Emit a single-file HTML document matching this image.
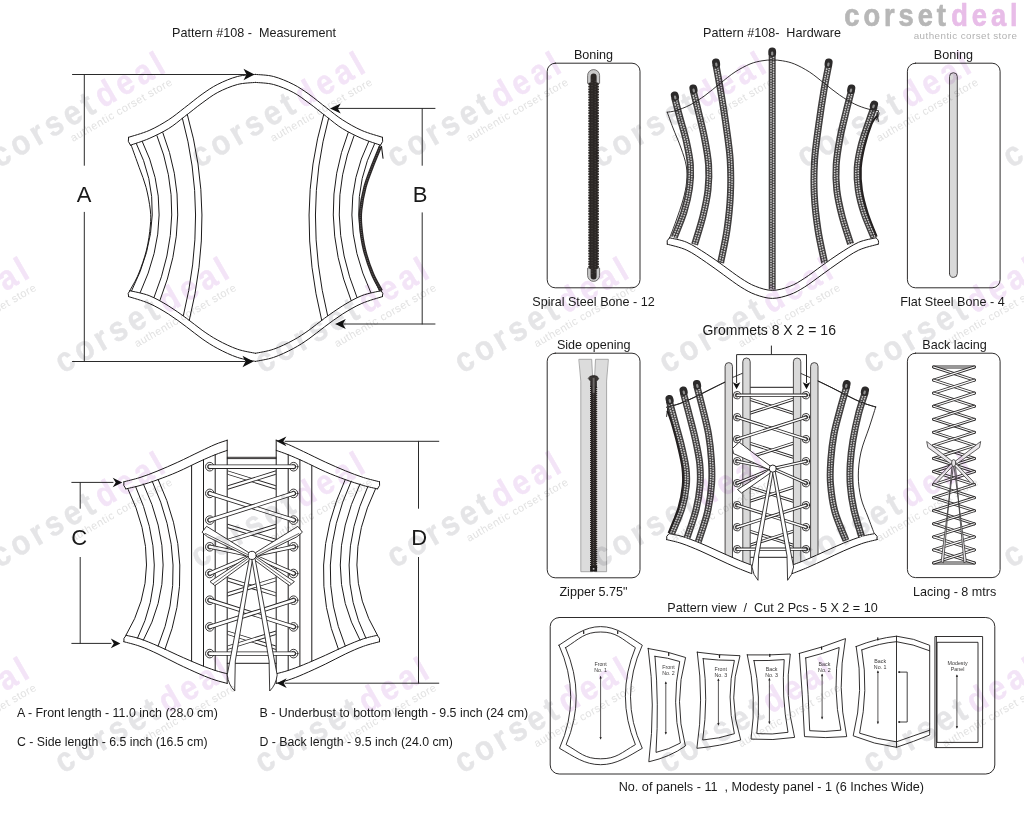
<!DOCTYPE html>
<html><head><meta charset="utf-8"><title>Pattern #108</title>
<style>
html,body{margin:0;padding:0;background:#fff;}
body{width:1024px;height:815px;overflow:hidden;position:relative;font-family:"Liberation Sans",sans-serif;}
svg{position:absolute;left:0;top:0;}
svg text{font-family:"Liberation Sans",sans-serif;}
#wm{mix-blend-mode:multiply;}
</style></head><body>
<svg id="draw" width="1024" height="815" viewBox="0 0 1024 815" stroke-linecap="round" stroke-linejoin="round">
<g id="meas">
<path d="M128.5,137.3C131.9,136.2 142.4,133.4 149.1,130.5C155.8,127.6 162.8,123.5 168.7,119.7C174.6,115.9 178.8,112.2 184.4,107.9C190,103.7 196.5,98.1 202.1,94.2C207.7,90.3 211.9,87.2 217.8,84.3C223.7,81.3 231.1,78.2 237.4,76.5C243.7,74.8 252.5,74.8 255.5,74.4M130.4,145.2C133.5,144.1 142.7,141.3 149.1,138.5C155.5,135.7 162.8,132.1 168.7,128.5C174.6,124.9 178.8,121 184.4,116.7C190,112.5 196.5,107 202.1,103C207.7,99 211.9,95.5 217.8,92.4C223.7,89.3 231.1,86.2 237.4,84.5C243.7,82.8 252.5,82.8 255.5,82.4M128.5,296.6C131.9,297.7 142.4,300.5 149.1,303.4C155.8,306.3 162.5,310.3 168.7,314.2C174.9,318.1 180.8,322.7 186.4,326.8C192,330.9 196.9,335.2 202.1,338.8C207.3,342.4 211.9,345.5 217.8,348.6C223.7,351.7 231.1,355.3 237.4,357.4C243.7,359.5 252.5,360.7 255.5,361.4M129.8,290.7C133,291.5 142.6,293.1 149.1,295.6C155.6,298.2 162.5,302.2 168.7,306C174.9,309.8 180.8,314.2 186.4,318.2C192,322.2 196.9,326.5 202.1,330.2C207.3,333.9 211.9,337 217.8,340.2C223.7,343.4 231.1,347 237.4,349.2C243.7,351.4 252.5,352.6 255.5,353.3M128.5,137.3Q127,141.5 130.4,145.2M129.8,290.7Q127,293 128.5,296.6M131.2,145.2C132.5,149 136.8,160.8 139.3,167.8C141.8,174.8 144.3,180.4 146.1,187.4C147.9,194.4 149.6,203.6 150.3,210C151,216.4 150.9,219.3 150.3,226C149.7,232.7 148.5,242 146.5,250C144.5,258 141.3,267.2 138.5,274C135.7,280.8 131.2,287.9 129.8,290.7M136.3,143.5Q170.7,212.8 131.6,290.8M142.2,141.3Q177.2,213 140.2,292.6M157,135.8Q188.1,213.3 154,297.5M162.8,132.6Q194.2,213.4 159.9,300.5M182.4,118.3Q208.3,213.1 183.4,315.5M187.3,114.5Q215.7,212.6 189.3,320.3" fill="none" stroke="#1c1a1a" stroke-width="1" />
<path d="M128.5,137.3C131.9,136.2 142.4,133.4 149.1,130.5C155.8,127.6 162.8,123.5 168.7,119.7C174.6,115.9 178.8,112.2 184.4,107.9C190,103.7 196.5,98.1 202.1,94.2C207.7,90.3 211.9,87.2 217.8,84.3C223.7,81.3 231.1,78.2 237.4,76.5C243.7,74.8 252.5,74.8 255.5,74.4M130.4,145.2C133.5,144.1 142.7,141.3 149.1,138.5C155.5,135.7 162.8,132.1 168.7,128.5C174.6,124.9 178.8,121 184.4,116.7C190,112.5 196.5,107 202.1,103C207.7,99 211.9,95.5 217.8,92.4C223.7,89.3 231.1,86.2 237.4,84.5C243.7,82.8 252.5,82.8 255.5,82.4M128.5,296.6C131.9,297.7 142.4,300.5 149.1,303.4C155.8,306.3 162.5,310.3 168.7,314.2C174.9,318.1 180.8,322.7 186.4,326.8C192,330.9 196.9,335.2 202.1,338.8C207.3,342.4 211.9,345.5 217.8,348.6C223.7,351.7 231.1,355.3 237.4,357.4C243.7,359.5 252.5,360.7 255.5,361.4M129.8,290.7C133,291.5 142.6,293.1 149.1,295.6C155.6,298.2 162.5,302.2 168.7,306C174.9,309.8 180.8,314.2 186.4,318.2C192,322.2 196.9,326.5 202.1,330.2C207.3,333.9 211.9,337 217.8,340.2C223.7,343.4 231.1,347 237.4,349.2C243.7,351.4 252.5,352.6 255.5,353.3M128.5,137.3Q127,141.5 130.4,145.2M129.8,290.7Q127,293 128.5,296.6M131.2,145.2C132.5,149 136.8,160.8 139.3,167.8C141.8,174.8 144.3,180.4 146.1,187.4C147.9,194.4 149.6,203.6 150.3,210C151,216.4 150.9,219.3 150.3,226C149.7,232.7 148.5,242 146.5,250C144.5,258 141.3,267.2 138.5,274C135.7,280.8 131.2,287.9 129.8,290.7M136.3,143.5Q170.7,212.8 131.6,290.8M142.2,141.3Q177.2,213 140.2,292.6M157,135.8Q188.1,213.3 154,297.5M162.8,132.6Q194.2,213.4 159.9,300.5M182.4,118.3Q208.3,213.1 183.4,315.5M187.3,114.5Q215.7,212.6 189.3,320.3" fill="none" stroke="#1c1a1a" stroke-width="1" transform="translate(511,0) scale(-1,1)"/>
<path d="M380.4,146.5C378.9,150.1 374.3,161 371.7,167.8C369.1,174.6 366.7,180.4 364.9,187.4C363.1,194.4 361.4,203.6 360.7,210C360,216.4 360.1,219.3 360.7,226C361.3,232.7 362.5,242 364.5,250C366.5,258 369.7,267.2 372.5,274C375.3,280.8 379.8,287.9 381.2,290.7" fill="none" stroke="#2a2626" stroke-width="3.4" stroke-linecap="butt"/>
<path d="M380.4,146.5C378.9,150.1 374.3,161 371.7,167.8C369.1,174.6 366.7,180.4 364.9,187.4C363.1,194.4 361.4,203.6 360.7,210C360,216.4 360.1,219.3 360.7,226C361.3,232.7 362.5,242 364.5,250C366.5,258 369.7,267.2 372.5,274C375.3,280.8 379.8,287.9 381.2,290.7" fill="none" stroke="#777" stroke-width="1.0" stroke-dasharray="0.6 1.3" stroke-linecap="butt"/>
<path d="M381.5,146.2 L383,158.2" fill="none" stroke="#1c1a1a" stroke-width="1.1" />
<path d="M72.5,74.5L246,74.5M72.5,361.5L245,361.5M84.3,74.5L84.3,165.3M84.3,212.3L84.3,361.5" fill="none" stroke="#2a2a2a" stroke-width="1" />
<path d="M254.5,74.5L243.5,68.7L246.5,74.5L243.5,80.3Z" fill="#111" stroke="none"/>
<path d="M253.5,361.5L242.5,355.7L245.5,361.5L242.5,367.3Z" fill="#111" stroke="none"/>
<path d="M338,108.4L435,108.4M343,324L435,324M422.2,108.4L422.2,165.3M422.2,212.8L422.2,324" fill="none" stroke="#2a2a2a" stroke-width="1" />
<path d="M330,108.4L340.8,103.4L337.8,108.4L340.8,113.4Z" fill="#111" stroke="none"/>
<path d="M335,324L345.8,319L342.8,324L345.8,329Z" fill="#111" stroke="none"/>
</g>
<g id="back">
<path d="M227.3,457.3H276.1M227.3,458.6H276.1" fill="none" stroke="#1c1a1a" stroke-width="0.9" />
<path d="M227.3,663.3H276.1" fill="none" stroke="#1c1a1a" stroke-width="1" />
<clipPath id="gapclip"><rect x="227.6" y="440" width="48.2" height="240"/></clipPath>
<g clip-path="url(#gapclip)">
<path d="M215,468.7L288.4,491.4" fill="none" stroke="#262424" stroke-width="4.2" stroke-linecap="round"/>
<path d="M215,468.7L288.4,491.4" fill="none" stroke="#fff" stroke-width="2.5" stroke-linecap="round"/>
<path d="M288.4,468.7L215,491.4" fill="none" stroke="#262424" stroke-width="4.2" stroke-linecap="round"/>
<path d="M288.4,468.7L215,491.4" fill="none" stroke="#fff" stroke-width="2.5" stroke-linecap="round"/>
<path d="M215,522.1L288.4,544.8" fill="none" stroke="#262424" stroke-width="4.2" stroke-linecap="round"/>
<path d="M215,522.1L288.4,544.8" fill="none" stroke="#fff" stroke-width="2.5" stroke-linecap="round"/>
<path d="M288.4,522.1L215,544.8" fill="none" stroke="#262424" stroke-width="4.2" stroke-linecap="round"/>
<path d="M288.4,522.1L215,544.8" fill="none" stroke="#fff" stroke-width="2.5" stroke-linecap="round"/>
<path d="M215,575.5L288.4,598.2" fill="none" stroke="#262424" stroke-width="4.2" stroke-linecap="round"/>
<path d="M215,575.5L288.4,598.2" fill="none" stroke="#fff" stroke-width="2.5" stroke-linecap="round"/>
<path d="M288.4,575.5L215,598.2" fill="none" stroke="#262424" stroke-width="4.2" stroke-linecap="round"/>
<path d="M288.4,575.5L215,598.2" fill="none" stroke="#fff" stroke-width="2.5" stroke-linecap="round"/>
<path d="M215,628.9L288.4,651.6" fill="none" stroke="#262424" stroke-width="4.2" stroke-linecap="round"/>
<path d="M215,628.9L288.4,651.6" fill="none" stroke="#fff" stroke-width="2.5" stroke-linecap="round"/>
<path d="M288.4,628.9L215,651.6" fill="none" stroke="#262424" stroke-width="4.2" stroke-linecap="round"/>
<path d="M288.4,628.9L215,651.6" fill="none" stroke="#fff" stroke-width="2.5" stroke-linecap="round"/>
</g>
<path d="M123.8,481.8C126.5,481.1 134.3,479.3 140,477.5C145.7,475.7 151.7,473.4 158,470.8C164.3,468.2 170.8,465.4 177.8,462.2C184.8,459 193.8,454.4 200,451.5C206.2,448.6 210.5,446.4 215,444.5C219.5,442.6 225.2,440.9 227.2,440.2M125.8,488.9C128.2,488.3 134.6,487.1 140,485.5C145.4,483.9 151.7,481.9 158,479.6C164.3,477.3 170.8,474.9 177.8,471.8C184.8,468.8 193.8,464.1 200,461.3C206.2,458.5 210.5,456.6 215,454.8C219.5,453 225.2,451.1 227.2,450.4M123.8,641.7C126.5,642.5 134.3,644.2 140,646.3C145.7,648.3 151.7,651 158,654C164.3,657 170.8,660.6 177.8,664C184.8,667.4 193.8,671.5 200,674.2C206.2,676.9 210.5,678.5 215,680C219.5,681.5 225.2,682.8 227.2,683.4M126.1,635.3C128.4,635.9 134.7,637 140,638.8C145.3,640.6 151.7,643.3 158,646C164.3,648.7 170.8,652.1 177.8,655.2C184.8,658.3 193.8,662.3 200,664.8C206.2,667.3 210.5,668.9 215,670.4C219.5,671.9 225.2,673.2 227.2,673.8M123.8,481.8Q122.6,485.5 125.8,488.9M126.1,635.3Q122.8,638 123.8,641.7M227.2,440.2L227.2,683.4M191.6,465.5L191.6,660.8M203.5,459.7L203.5,666M215.2,454.7L215.2,670.5M127.7,488.4Q166.4,568.1 125.9,635.4M135.6,486.6Q172.2,567.6 137.5,638.2M143.4,484Q183,568 143.4,640.1M152.2,481.2Q191.1,566.4 158.1,646.1M158.1,479.4Q198.2,565.7 165,649.2" fill="none" stroke="#1c1a1a" stroke-width="1" />
<path d="M123.8,481.8C126.5,481.1 134.3,479.3 140,477.5C145.7,475.7 151.7,473.4 158,470.8C164.3,468.2 170.8,465.4 177.8,462.2C184.8,459 193.8,454.4 200,451.5C206.2,448.6 210.5,446.4 215,444.5C219.5,442.6 225.2,440.9 227.2,440.2M125.8,488.9C128.2,488.3 134.6,487.1 140,485.5C145.4,483.9 151.7,481.9 158,479.6C164.3,477.3 170.8,474.9 177.8,471.8C184.8,468.8 193.8,464.1 200,461.3C206.2,458.5 210.5,456.6 215,454.8C219.5,453 225.2,451.1 227.2,450.4M123.8,641.7C126.5,642.5 134.3,644.2 140,646.3C145.7,648.3 151.7,651 158,654C164.3,657 170.8,660.6 177.8,664C184.8,667.4 193.8,671.5 200,674.2C206.2,676.9 210.5,678.5 215,680C219.5,681.5 225.2,682.8 227.2,683.4M126.1,635.3C128.4,635.9 134.7,637 140,638.8C145.3,640.6 151.7,643.3 158,646C164.3,648.7 170.8,652.1 177.8,655.2C184.8,658.3 193.8,662.3 200,664.8C206.2,667.3 210.5,668.9 215,670.4C219.5,671.9 225.2,673.2 227.2,673.8M123.8,481.8Q122.6,485.5 125.8,488.9M126.1,635.3Q122.8,638 123.8,641.7M227.2,440.2L227.2,683.4M191.6,465.5L191.6,660.8M203.5,459.7L203.5,666M215.2,454.7L215.2,670.5M127.7,488.4Q166.4,568.1 125.9,635.4M135.6,486.6Q172.2,567.6 137.5,638.2M143.4,484Q183,568 143.4,640.1M152.2,481.2Q191.1,566.4 158.1,646.1M158.1,479.4Q198.2,565.7 165,649.2" fill="none" stroke="#1c1a1a" stroke-width="1" transform="translate(503.4,0) scale(-1,1)"/>
<circle cx="209.8" cy="466.7" r="4.3" fill="#fff" stroke="#262424" stroke-width="0.9"/>
<circle cx="209.8" cy="466.7" r="2.3" fill="#fff" stroke="#262424" stroke-width="0.8"/>
<circle cx="293.6" cy="466.7" r="4.3" fill="#fff" stroke="#262424" stroke-width="0.9"/>
<circle cx="293.6" cy="466.7" r="2.3" fill="#fff" stroke="#262424" stroke-width="0.8"/>
<circle cx="209.8" cy="493.4" r="4.3" fill="#fff" stroke="#262424" stroke-width="0.9"/>
<circle cx="209.8" cy="493.4" r="2.3" fill="#fff" stroke="#262424" stroke-width="0.8"/>
<circle cx="293.6" cy="493.4" r="4.3" fill="#fff" stroke="#262424" stroke-width="0.9"/>
<circle cx="293.6" cy="493.4" r="2.3" fill="#fff" stroke="#262424" stroke-width="0.8"/>
<circle cx="209.8" cy="520.1" r="4.3" fill="#fff" stroke="#262424" stroke-width="0.9"/>
<circle cx="209.8" cy="520.1" r="2.3" fill="#fff" stroke="#262424" stroke-width="0.8"/>
<circle cx="293.6" cy="520.1" r="4.3" fill="#fff" stroke="#262424" stroke-width="0.9"/>
<circle cx="293.6" cy="520.1" r="2.3" fill="#fff" stroke="#262424" stroke-width="0.8"/>
<circle cx="209.8" cy="546.8" r="4.3" fill="#fff" stroke="#262424" stroke-width="0.9"/>
<circle cx="209.8" cy="546.8" r="2.3" fill="#fff" stroke="#262424" stroke-width="0.8"/>
<circle cx="293.6" cy="546.8" r="4.3" fill="#fff" stroke="#262424" stroke-width="0.9"/>
<circle cx="293.6" cy="546.8" r="2.3" fill="#fff" stroke="#262424" stroke-width="0.8"/>
<circle cx="209.8" cy="573.5" r="4.3" fill="#fff" stroke="#262424" stroke-width="0.9"/>
<circle cx="209.8" cy="573.5" r="2.3" fill="#fff" stroke="#262424" stroke-width="0.8"/>
<circle cx="293.6" cy="573.5" r="4.3" fill="#fff" stroke="#262424" stroke-width="0.9"/>
<circle cx="293.6" cy="573.5" r="2.3" fill="#fff" stroke="#262424" stroke-width="0.8"/>
<circle cx="209.8" cy="600.2" r="4.3" fill="#fff" stroke="#262424" stroke-width="0.9"/>
<circle cx="209.8" cy="600.2" r="2.3" fill="#fff" stroke="#262424" stroke-width="0.8"/>
<circle cx="293.6" cy="600.2" r="4.3" fill="#fff" stroke="#262424" stroke-width="0.9"/>
<circle cx="293.6" cy="600.2" r="2.3" fill="#fff" stroke="#262424" stroke-width="0.8"/>
<circle cx="209.8" cy="626.9" r="4.3" fill="#fff" stroke="#262424" stroke-width="0.9"/>
<circle cx="209.8" cy="626.9" r="2.3" fill="#fff" stroke="#262424" stroke-width="0.8"/>
<circle cx="293.6" cy="626.9" r="4.3" fill="#fff" stroke="#262424" stroke-width="0.9"/>
<circle cx="293.6" cy="626.9" r="2.3" fill="#fff" stroke="#262424" stroke-width="0.8"/>
<circle cx="209.8" cy="653.6" r="4.3" fill="#fff" stroke="#262424" stroke-width="0.9"/>
<circle cx="209.8" cy="653.6" r="2.3" fill="#fff" stroke="#262424" stroke-width="0.8"/>
<circle cx="293.6" cy="653.6" r="4.3" fill="#fff" stroke="#262424" stroke-width="0.9"/>
<circle cx="293.6" cy="653.6" r="2.3" fill="#fff" stroke="#262424" stroke-width="0.8"/>
<path d="M209.8,466.7L293.6,466.7" fill="none" stroke="#262424" stroke-width="4.4" stroke-linecap="round"/>
<path d="M209.8,466.7L293.6,466.7" fill="none" stroke="#fff" stroke-width="2.7" stroke-linecap="round"/>
<path d="M209.8,653.6L293.6,653.6" fill="none" stroke="#262424" stroke-width="4.4" stroke-linecap="round"/>
<path d="M209.8,653.6L293.6,653.6" fill="none" stroke="#fff" stroke-width="2.7" stroke-linecap="round"/>
<path d="M209.8,493.4L293.6,520.1" fill="none" stroke="#262424" stroke-width="4.4" stroke-linecap="round"/>
<path d="M209.8,493.4L293.6,520.1" fill="none" stroke="#fff" stroke-width="2.7" stroke-linecap="round"/>
<path d="M293.6,493.4L209.8,520.1" fill="none" stroke="#262424" stroke-width="4.4" stroke-linecap="round"/>
<path d="M293.6,493.4L209.8,520.1" fill="none" stroke="#fff" stroke-width="2.7" stroke-linecap="round"/>
<path d="M209.8,600.2L293.6,626.9" fill="none" stroke="#262424" stroke-width="4.4" stroke-linecap="round"/>
<path d="M209.8,600.2L293.6,626.9" fill="none" stroke="#fff" stroke-width="2.7" stroke-linecap="round"/>
<path d="M293.6,600.2L209.8,626.9" fill="none" stroke="#262424" stroke-width="4.4" stroke-linecap="round"/>
<path d="M293.6,600.2L209.8,626.9" fill="none" stroke="#fff" stroke-width="2.7" stroke-linecap="round"/>
<path d="M209.8,546.8L252.2,555.4" fill="none" stroke="#262424" stroke-width="4.2" stroke-linecap="round"/>
<path d="M209.8,546.8L252.2,555.4" fill="none" stroke="#fff" stroke-width="2.5" stroke-linecap="round"/>
<path d="M209.8,573.5L252.2,555.4" fill="none" stroke="#262424" stroke-width="4.2" stroke-linecap="round"/>
<path d="M209.8,573.5L252.2,555.4" fill="none" stroke="#fff" stroke-width="2.5" stroke-linecap="round"/>
<path d="M293.6,546.8L252.2,555.4" fill="none" stroke="#262424" stroke-width="4.2" stroke-linecap="round"/>
<path d="M293.6,546.8L252.2,555.4" fill="none" stroke="#fff" stroke-width="2.5" stroke-linecap="round"/>
<path d="M293.6,573.5L252.2,555.4" fill="none" stroke="#262424" stroke-width="4.2" stroke-linecap="round"/>
<path d="M293.6,573.5L252.2,555.4" fill="none" stroke="#fff" stroke-width="2.5" stroke-linecap="round"/>
<path d="M249.2,552.9L206.6,526.3L202,532.2L207.5,536.8L248.2,556.9ZM248.2,556.4L210,581.6L214.8,585.6L220,582L250.7,559.4Z" fill="#fff" stroke="#262424" stroke-width="0.9" />
<path d="M249.2,552.9L206.6,526.3L202,532.2L207.5,536.8L248.2,556.9ZM248.2,556.4L210,581.6L214.8,585.6L220,582L250.7,559.4Z" fill="#fff" stroke="#262424" stroke-width="0.9" transform="translate(504.4,0) scale(-1,1)"/>
<path d="M247.2,554.4L205.5,533.5M248.2,558.4L213.5,583.5" fill="none" stroke="#262424" stroke-width="0.7" />
<path d="M247.2,554.4L205.5,533.5M248.2,558.4L213.5,583.5" fill="none" stroke="#262424" stroke-width="0.7" transform="translate(504.4,0) scale(-1,1)"/>
<path d="M249.4,558.4 L227.2,675 Q228.5,685 234.7,691 L235.3,661 L252.5,559.4 Z" fill="#fff" stroke="#262424" stroke-width="0.9" />
<path d="M249.4,558.4 L227.2,675 Q228.5,685 234.7,691 L235.3,661 L252.5,559.4 Z" fill="#fff" stroke="#262424" stroke-width="0.9" transform="translate(504.4,0) scale(-1,1)"/>
<circle cx="252.2" cy="555.4" r="4.1" fill="#fff" stroke="#262424" stroke-width="1"/>
<path d="M71.8,482.4L113,482.4M71.8,643.4L111,643.4M80.2,482.4L80.2,508.3M80.2,557.4L80.2,643.4" fill="none" stroke="#2a2a2a" stroke-width="1" />
<path d="M122.3,482.5L112.7,477.7L115.7,482.5L112.7,487.3Z" fill="#111" stroke="none"/>
<path d="M120.4,643.4L110.8,638.6L113.8,643.4L110.8,648.2Z" fill="#111" stroke="none"/>
<path d="M285,441.3L438.8,441.3M285,683.2L438.8,683.2M418.5,441.3L418.5,508.3M418.5,557.4L418.5,683.2" fill="none" stroke="#2a2a2a" stroke-width="1" />
<path d="M276.6,441.3L286.4,436.4L283.4,441.3L286.4,446.2Z" fill="#111" stroke="none"/>
<path d="M276.9,683.2L286.7,678.3L283.7,683.2L286.7,688.1Z" fill="#111" stroke="none"/>
</g>
<g id="hw">
<path d="M667.2,112.2C668.2,114.8 670.7,122 673,128C675.3,134 678.8,141.7 681,148C683.2,154.3 685.4,160.3 686.3,166C687.2,171.7 687.1,176.3 686.6,182C686.1,187.7 684.8,193.5 683,200C681.2,206.5 678.2,214.7 676,221C673.8,227.3 670.7,235.2 669.6,238" fill="none" stroke="#1c1a1a" stroke-width="0.9" />
<path d="M878.2,110.8C878.3,111.3 879.2,112.5 878.9,114C878.6,115.5 876.9,119 876.5,120" fill="none" stroke="#1c1a1a" stroke-width="0.9" />
<path d="M667.2,244.2C670.5,245.2 680.3,247.1 686.8,250.2C693.3,253.2 700.3,258.4 706.4,262.5C712.5,266.6 717.9,270.7 723.6,274.8C729.3,278.9 735.5,283.7 740.8,287C746.1,290.3 750.2,292.7 755.5,294.6C760.8,296.5 766.7,298.4 772.4,298.4C778.1,298.4 784.5,296.5 789.9,294.6C795.3,292.7 799.3,290.3 804.6,287C809.9,283.7 816.1,278.9 821.8,274.8C827.5,270.7 832.9,266.6 839,262.5C845.1,258.4 852.1,253.2 858.6,250.2C865.1,247.1 874.9,245.2 878.2,244.2" fill="none" stroke="#1c1a1a" stroke-width="1" />
<path d="M669.4,237.8C672.3,238.6 680.6,239.6 686.8,242.3C693,245 700.3,249.9 706.4,253.8C712.5,257.7 717.9,261.7 723.6,265.8C729.3,269.9 735.5,274.8 740.8,278.2C746.1,281.6 750.2,284.3 755.5,286.3C760.8,288.3 766.7,290.4 772.4,290.4C778.1,290.4 784.5,288.3 789.9,286.3C795.3,284.3 799.3,281.6 804.6,278.2C809.9,274.8 816.1,269.9 821.8,265.8C827.5,261.7 832.9,257.7 839,253.8C845.1,249.9 852.4,245 858.6,242.3C864.8,239.6 873.1,238.6 876,237.8" fill="none" stroke="#1c1a1a" stroke-width="1" />
<path d="M669.4,237.8Q665.8,240.5 667.2,244.2M876,237.8Q879.9,240.5 878.2,244.2" fill="none" stroke="#1c1a1a" stroke-width="1" />
<path d="M674.6,97.5C675.5,100.9 678,110.6 680,118C682,125.4 684.8,134.2 686.5,142C688.2,149.8 689.9,157.3 690.4,165C690.9,172.7 690.6,180.2 689.5,188C688.4,195.8 686.5,203.8 684,212C681.5,220.2 675.8,233.2 674.2,237.5" fill="none" stroke="#403e3e" stroke-width="7.0" stroke-linecap="butt"/>
<path d="M673.4,97.8C674.3,101.2 676.8,110.9 678.8,118.3C680.8,125.7 683.6,134.5 685.3,142.3C687,150.1 688.7,157.5 689.2,165.1C689.6,172.7 689.3,180.1 688.3,187.8C687.2,195.6 685.3,203.4 682.8,211.6C680.3,219.8 674.7,232.8 673,237.1" fill="none" stroke="#c9c9c9" stroke-width="1.7" stroke-linecap="round" stroke-dasharray="0.1 2.4"/>
<path d="M675.8,97.2C676.7,100.6 679.2,110.3 681.2,117.7C683.2,125.1 686,133.9 687.7,141.7C689.5,149.6 691.1,157.2 691.6,164.9C692.2,172.7 691.8,180.3 690.7,188.2C689.7,196.1 687.8,204.1 685.2,212.4C682.6,220.7 677,233.7 675.4,237.9" fill="none" stroke="#c9c9c9" stroke-width="1.7" stroke-linecap="round" stroke-dasharray="0.1 2.4" stroke-dashoffset="1.25"/>
<path d="M693.2,90.5C694.1,94.1 696.6,104.1 698.5,112C700.4,119.9 702.8,129.2 704.5,138C706.2,146.8 708,156.3 708.6,165C709.2,173.7 708.9,181.5 708,190C707.1,198.5 705.2,206.9 703,216C700.8,225.1 696,239.8 694.6,244.5" fill="none" stroke="#403e3e" stroke-width="7.0" stroke-linecap="butt"/>
<path d="M692,90.8C692.9,94.4 695.4,104.4 697.3,112.3C699.2,120.2 701.6,129.4 703.3,138.2C705,147 706.8,156.5 707.4,165.1C707.9,173.7 707.7,181.4 706.8,189.9C705.8,198.3 704,206.7 701.8,215.7C699.6,224.7 694.8,239.4 693.4,244.1" fill="none" stroke="#c9c9c9" stroke-width="1.7" stroke-linecap="round" stroke-dasharray="0.1 2.4"/>
<path d="M694.4,90.2C695.3,93.8 697.8,103.8 699.7,111.7C701.6,119.6 704,128.9 705.7,137.8C707.4,146.6 709.3,156.2 709.8,164.9C710.4,173.6 710.2,181.6 709.2,190.1C708.3,198.7 706.5,207.2 704.2,216.3C702,225.4 697.2,240.1 695.8,244.9" fill="none" stroke="#c9c9c9" stroke-width="1.7" stroke-linecap="round" stroke-dasharray="0.1 2.4" stroke-dashoffset="1.25"/>
<path d="M715.9,64.5C716.7,68.8 718.8,79.9 720.5,90C722.2,100.1 724.4,113.3 726,125C727.6,136.7 729.5,148.3 730.2,160C730.9,171.7 730.9,183.3 730.4,195C729.9,206.7 728.6,218.7 727,230C725.4,241.3 721.7,257.3 720.6,262.8" fill="none" stroke="#403e3e" stroke-width="7.0" stroke-linecap="butt"/>
<path d="M714.7,64.7C715.4,69 717.6,80.1 719.3,90.2C720.9,100.3 723.1,113.5 724.8,125.2C726.4,136.8 728.2,148.4 729,160.1C729.7,171.7 729.7,183.3 729.2,194.9C728.6,206.6 727.4,218.6 725.8,229.8C724.1,241.1 720.4,257.1 719.4,262.6" fill="none" stroke="#c9c9c9" stroke-width="1.7" stroke-linecap="round" stroke-dasharray="0.1 2.4"/>
<path d="M717.1,64.3C717.9,68.5 720,79.7 721.7,89.8C723.4,99.9 725.6,113.1 727.2,124.8C728.9,136.5 730.7,148.2 731.4,159.9C732.2,171.6 732.2,183.3 731.6,195.1C731.1,206.8 729.9,218.8 728.2,230.2C726.6,241.5 722.9,257.6 721.8,263" fill="none" stroke="#c9c9c9" stroke-width="1.7" stroke-linecap="round" stroke-dasharray="0.1 2.4" stroke-dashoffset="1.25"/>
<path d="M772.2,53.5C772.2,64.6 772.2,95.6 772.2,120C772.2,144.4 772.2,171.8 772.2,200C772.2,228.2 772.2,274.6 772.2,289.5" fill="none" stroke="#403e3e" stroke-width="7.0" stroke-linecap="butt"/>
<path d="M771,53.5C771,64.6 771,95.6 771,120C771,144.4 771,171.8 771,200C771,228.2 771,274.6 771,289.5" fill="none" stroke="#c9c9c9" stroke-width="1.7" stroke-linecap="round" stroke-dasharray="0.1 2.4"/>
<path d="M773.5,53.5C773.5,64.6 773.5,95.6 773.5,120C773.5,144.4 773.5,171.8 773.5,200C773.5,228.2 773.5,274.6 773.5,289.5" fill="none" stroke="#c9c9c9" stroke-width="1.7" stroke-linecap="round" stroke-dasharray="0.1 2.4" stroke-dashoffset="1.25"/>
<path d="M828.8,64.5C828,68.8 825.7,79.9 824,90C822.3,100.1 820.3,113.3 818.7,125C817.1,136.7 815.3,148.3 814.6,160C813.9,171.7 813.7,183.3 814.3,195C814.9,206.7 816.3,218.7 818,230C819.7,241.3 823.5,257.3 824.6,262.8" fill="none" stroke="#403e3e" stroke-width="7.0" stroke-linecap="butt"/>
<path d="M827.6,64.3C826.8,68.5 824.5,79.7 822.8,89.8C821.1,99.9 819,113.1 817.5,124.8C815.9,136.5 814.1,148.2 813.4,159.9C812.6,171.6 812.5,183.3 813.1,195.1C813.6,206.8 815,218.9 816.8,230.2C818.5,241.5 822.3,257.6 823.4,263" fill="none" stroke="#c9c9c9" stroke-width="1.7" stroke-linecap="round" stroke-dasharray="0.1 2.4"/>
<path d="M830,64.7C829.2,69 826.9,80.1 825.2,90.2C823.6,100.3 821.5,113.5 819.9,125.2C818.4,136.8 816.6,148.4 815.8,160.1C815.1,171.7 815,183.3 815.5,194.9C816.1,206.6 817.5,218.5 819.2,229.8C820.9,241.1 824.7,257.1 825.8,262.6" fill="none" stroke="#c9c9c9" stroke-width="1.7" stroke-linecap="round" stroke-dasharray="0.1 2.4" stroke-dashoffset="1.25"/>
<path d="M851.5,90.5C850.6,94.1 847.9,104.1 846,112C844.1,119.9 841.6,129.2 840,138C838.4,146.8 836.7,156.3 836.2,165C835.7,173.7 835.8,181.5 836.8,190C837.8,198.5 839.7,207 842,216C844.3,225 849.2,239.3 850.6,244" fill="none" stroke="#403e3e" stroke-width="7.0" stroke-linecap="butt"/>
<path d="M850.3,90.2C849.4,93.8 846.7,103.8 844.8,111.7C842.9,119.6 840.4,128.9 838.8,137.8C837.1,146.6 835.5,156.2 835,164.9C834.4,173.7 834.6,181.6 835.6,190.1C836.5,198.7 838.5,207.3 840.8,216.3C843.1,225.3 848,239.7 849.4,244.4" fill="none" stroke="#c9c9c9" stroke-width="1.7" stroke-linecap="round" stroke-dasharray="0.1 2.4"/>
<path d="M852.7,90.8C851.8,94.4 849.1,104.4 847.2,112.3C845.3,120.2 842.9,129.4 841.2,138.2C839.6,147 838,156.5 837.4,165.1C836.9,173.7 837.1,181.4 838,189.9C839,198.3 840.9,206.7 843.2,215.7C845.5,224.7 850.4,239 851.8,243.6" fill="none" stroke="#c9c9c9" stroke-width="1.7" stroke-linecap="round" stroke-dasharray="0.1 2.4" stroke-dashoffset="1.25"/>
<path d="M874.3,106.5C873.2,109.4 870.2,117.4 868,124C865.8,130.6 862.8,138.7 861,146C859.2,153.3 857.7,160.7 857.2,168C856.8,175.3 857.2,182.5 858.3,190C859.4,197.5 861.4,205.1 864,213C866.6,220.9 872.3,233.4 874,237.5" fill="none" stroke="#403e3e" stroke-width="7.0" stroke-linecap="butt"/>
<path d="M873.1,106.1C872.1,109 869,117 866.8,123.6C864.6,130.2 861.6,138.3 859.8,145.7C858,153.1 856.4,160.5 856,167.9C855.5,175.3 855.9,182.6 857.1,190.2C858.2,197.8 860.2,205.4 862.8,213.4C865.4,221.4 871.2,233.9 872.8,238" fill="none" stroke="#c9c9c9" stroke-width="1.7" stroke-linecap="round" stroke-dasharray="0.1 2.4"/>
<path d="M875.5,106.9C874.4,109.8 871.4,117.8 869.2,124.4C867,131 864,139 862.2,146.3C860.4,153.6 858.9,160.8 858.4,168.1C858,175.3 858.4,182.4 859.5,189.8C860.7,197.2 862.6,204.7 865.2,212.6C867.8,220.5 873.5,233 875.2,237" fill="none" stroke="#c9c9c9" stroke-width="1.7" stroke-linecap="round" stroke-dasharray="0.1 2.4" stroke-dashoffset="1.25"/>
<path d="M667.2,112.2C668.7,111.9 672.2,111.8 676,110.6C679.8,109.4 685.2,107.5 690,105C694.8,102.5 700,99.1 705,95.5C710,91.9 715,87.4 720,83.5C725,79.6 730,75.2 735,72C740,68.8 745.5,65.9 750,64C754.5,62.1 758.3,61.5 762,60.8C765.7,60.1 768.8,60 772.2,60C775.6,60 778.8,60.1 782.5,60.8C786.2,61.5 790,62.1 794.5,64C799,65.9 804.5,68.8 809.5,72C814.5,75.2 819.5,79.7 824.5,83.5C829.5,87.3 834.5,91.6 839.5,95C844.5,98.4 849.8,101.7 854.5,104C859.2,106.3 864,107.9 868,109C872,110.1 876.5,110.5 878.2,110.8" fill="none" stroke="#1c1a1a" stroke-width="0.9" />
<rect x="670.7" y="91.5" width="7.8" height="9.5" rx="3.9" fill="#2c2a2a" transform="rotate(-14 674.6 95)"/>
<rect x="673.5" y="95.5" width="2.2" height="4" rx="1.2" fill="#8f8f8f" transform="rotate(-14 674.6 95)"/>
<rect x="689.3" y="84.5" width="7.8" height="9.5" rx="3.9" fill="#2c2a2a" transform="rotate(-13 693.2 88)"/>
<rect x="692.1" y="88.5" width="2.2" height="4" rx="1.2" fill="#8f8f8f" transform="rotate(-13 693.2 88)"/>
<rect x="712" y="58.5" width="7.8" height="9.5" rx="3.9" fill="#2c2a2a" transform="rotate(-10 715.9 62)"/>
<rect x="714.8" y="62.5" width="2.2" height="4" rx="1.2" fill="#8f8f8f" transform="rotate(-10 715.9 62)"/>
<rect x="768.3" y="47.5" width="7.8" height="9.5" rx="3.9" fill="#2c2a2a" transform="rotate(0 772.2 51)"/>
<rect x="771.1" y="51.5" width="2.2" height="4" rx="1.2" fill="#8f8f8f" transform="rotate(0 772.2 51)"/>
<rect x="824.9" y="58.5" width="7.8" height="9.5" rx="3.9" fill="#2c2a2a" transform="rotate(10 828.8 62)"/>
<rect x="827.7" y="62.5" width="2.2" height="4" rx="1.2" fill="#8f8f8f" transform="rotate(10 828.8 62)"/>
<rect x="847.6" y="84.5" width="7.8" height="9.5" rx="3.9" fill="#2c2a2a" transform="rotate(13 851.5 88)"/>
<rect x="850.4" y="88.5" width="2.2" height="4" rx="1.2" fill="#8f8f8f" transform="rotate(13 851.5 88)"/>
<rect x="870.4" y="100.5" width="7.8" height="9.5" rx="3.9" fill="#2c2a2a" transform="rotate(18 874.3 104)"/>
<rect x="873.2" y="104.5" width="2.2" height="4" rx="1.2" fill="#8f8f8f" transform="rotate(18 874.3 104)"/>
<path d="M876.8,116C875.9,117.3 873.6,119 871.6,124C869.6,129 866.4,138.7 864.6,146C862.8,153.3 861.3,160.7 860.8,168C860.4,175.3 860.8,182.5 861.9,190C863,197.5 865.1,205.2 867.6,213C870.1,220.8 875.1,232.6 876.6,236.5" fill="none" stroke="#242020" stroke-width="2.0" stroke-linecap="butt"/>
<path d="M877.2,112.5L878.3,121.5M877.2,112.5L876.2,118" fill="none" stroke="#1c1a1a" stroke-width="0.9" />
</g>
<g id="grom">
<path d="M771.4,345.6V354.7M736.6,383V354.6H806.5V383" fill="none" stroke="#2a2a2a" stroke-width="1" stroke-linecap="butt"/>
<path d="M666.7,407.2C668.9,406.6 675.3,405.2 680,403.5C684.7,401.8 690,399.3 695,397C700,394.7 705,392 710,389.5C715,387 722.3,383.4 724.8,382.2" fill="none" stroke="#1c1a1a" stroke-width="0.9" />
<path d="M732.5,377.5C734.2,376.8 740.8,374 742.5,373.3" fill="none" stroke="#1c1a1a" stroke-width="0.9" />
<path d="M800.5,373.3C802.1,374 808.4,376.8 810,377.5" fill="none" stroke="#1c1a1a" stroke-width="0.9" />
<path d="M818,381C820.3,382.1 827,385.3 832,387.8C837,390.3 843,393.5 848,396C853,398.5 857.4,400.8 862,402.6C866.6,404.4 873.4,406.3 875.7,407" fill="none" stroke="#1c1a1a" stroke-width="0.9" />
<path d="M875.7,407C874.6,410.5 871.5,420.5 869,428C866.5,435.5 862.8,444 861,452C859.2,460 858.3,468.3 858.3,476C858.3,483.7 859.4,491.2 861,498C862.6,504.8 865.7,510.9 868,517C870.3,523.1 873.5,531.6 874.6,534.5" fill="none" stroke="#1c1a1a" stroke-width="0.9" />
<path d="M750,387.3H793M750,557.3H793" fill="none" stroke="#1c1a1a" stroke-width="1" />
<clipPath id="gapclip2"><rect x="750" y="380" width="43" height="180"/></clipPath>
<g clip-path="url(#gapclip2)">
<path d="M742,396.7L801,415.7" fill="none" stroke="#262424" stroke-width="3.1" stroke-linecap="round"/>
<path d="M742,396.7L801,415.7" fill="none" stroke="#fff" stroke-width="1.4000000000000001" stroke-linecap="round"/>
<path d="M801,396.7L742,415.7" fill="none" stroke="#262424" stroke-width="3.1" stroke-linecap="round"/>
<path d="M801,396.7L742,415.7" fill="none" stroke="#fff" stroke-width="1.4000000000000001" stroke-linecap="round"/>
<path d="M742,440.7L801,459.7" fill="none" stroke="#262424" stroke-width="3.1" stroke-linecap="round"/>
<path d="M742,440.7L801,459.7" fill="none" stroke="#fff" stroke-width="1.4000000000000001" stroke-linecap="round"/>
<path d="M801,440.7L742,459.7" fill="none" stroke="#262424" stroke-width="3.1" stroke-linecap="round"/>
<path d="M801,440.7L742,459.7" fill="none" stroke="#fff" stroke-width="1.4000000000000001" stroke-linecap="round"/>
<path d="M742,484.7L801,503.7" fill="none" stroke="#262424" stroke-width="3.1" stroke-linecap="round"/>
<path d="M742,484.7L801,503.7" fill="none" stroke="#fff" stroke-width="1.4000000000000001" stroke-linecap="round"/>
<path d="M801,484.7L742,503.7" fill="none" stroke="#262424" stroke-width="3.1" stroke-linecap="round"/>
<path d="M801,484.7L742,503.7" fill="none" stroke="#fff" stroke-width="1.4000000000000001" stroke-linecap="round"/>
<path d="M742,528.7L801,547.7" fill="none" stroke="#262424" stroke-width="3.1" stroke-linecap="round"/>
<path d="M742,528.7L801,547.7" fill="none" stroke="#fff" stroke-width="1.4000000000000001" stroke-linecap="round"/>
<path d="M801,528.7L742,547.7" fill="none" stroke="#262424" stroke-width="3.1" stroke-linecap="round"/>
<path d="M801,528.7L742,547.7" fill="none" stroke="#fff" stroke-width="1.4000000000000001" stroke-linecap="round"/>
</g>
<path d="M725.1,557V366.3a3.7,3.7 0 0 1 7.4,0V557Z" fill="#d9d9d9" stroke="#3a3838" stroke-width="0.9"/>
<path d="M742.8,564.5V361.7a3.7,3.7 0 0 1 7.4,0V564.5Z" fill="#d9d9d9" stroke="#3a3838" stroke-width="0.9"/>
<path d="M793.4,564.5V361.7a3.7,3.7 0 0 1 7.4,0V564.5Z" fill="#d9d9d9" stroke="#3a3838" stroke-width="0.9"/>
<path d="M810.6,557V366.3a3.7,3.7 0 0 1 7.4,0V557Z" fill="#d9d9d9" stroke="#3a3838" stroke-width="0.9"/>
<path d="M666.7,539.6C669.2,540.3 676.5,541.7 682,543.6C687.5,545.5 694,548.2 700,550.8C706,553.4 712,556.4 718,559.2C724,562 730.4,565 736,567.4C741.6,569.8 749.2,572.7 751.8,573.7L751.8,565.2C749.2,564.2 741.6,561.4 736,559C730.4,556.6 724,553.7 718,551C712,548.3 706,545.4 700,543C694,540.6 687.2,538 682,536.4C676.8,534.8 671.2,534.1 669,533.6Q665.5,536 666.7,539.6Z" fill="#fff" stroke="#1c1a1a" stroke-width="1" />
<path d="M877.1,539.6C874.5,540.3 867.3,541.7 861.8,543.6C856.2,545.5 849.8,548.2 843.8,550.8C837.8,553.4 831.8,556.4 825.8,559.2C819.8,562 813.4,565 807.8,567.4C802.2,569.8 794.6,572.7 792,573.7L792,565.2C794.6,564.2 802.2,561.4 807.8,559C813.4,556.6 819.8,553.7 825.8,551C831.8,548.3 837.8,545.4 843.8,543C849.8,540.6 856.6,538 861.8,536.4C867,534.8 872.6,534.1 874.8,533.6Q878.3,536 877.1,539.6Z" fill="#fff" stroke="#1c1a1a" stroke-width="1" />
<path d="M669.3,401C670.2,404.5 673,414.5 675,422C677,429.5 679.7,438.3 681.5,446C683.3,453.7 685.2,461.3 686,468C686.8,474.7 687,479.3 686.3,486C685.6,492.7 684.5,500 682,508C679.5,516 673.2,529.7 671.5,534" fill="none" stroke="#403e3e" stroke-width="7.0" stroke-linecap="butt"/>
<path d="M668.1,401.3C669,404.8 671.8,414.8 673.8,422.3C675.8,429.8 678.5,438.7 680.3,446.3C682.1,453.9 684,461.6 684.8,468.1C685.6,474.7 685.7,479.3 685.1,485.9C684.4,492.5 683.3,499.7 680.8,507.6C678.4,515.6 672.1,529.2 670.3,533.5" fill="none" stroke="#c9c9c9" stroke-width="1.7" stroke-linecap="round" stroke-dasharray="0.1 2.4"/>
<path d="M670.5,400.7C671.5,404.2 674.2,414.2 676.2,421.7C678.2,429.2 680.9,438 682.7,445.7C684.6,453.4 686.4,461.1 687.2,467.9C688,474.6 688.2,479.4 687.5,486.1C686.9,492.9 685.7,500.3 683.2,508.4C680.7,516.4 674.4,530.1 672.7,534.5" fill="none" stroke="#c9c9c9" stroke-width="1.7" stroke-linecap="round" stroke-dasharray="0.1 2.4" stroke-dashoffset="1.25"/>
<path d="M683.3,392.5C684.2,396.1 687,406.1 689,414C691,421.9 693.7,431.7 695.5,440C697.3,448.3 699,456.3 699.8,464C700.5,471.7 700.6,478.3 700,486C699.4,493.7 698.2,501.3 696,510C693.8,518.7 688.5,533.3 687,538" fill="none" stroke="#403e3e" stroke-width="7.0" stroke-linecap="butt"/>
<path d="M682.1,392.8C683,396.4 685.8,406.4 687.8,414.3C689.8,422.2 692.5,432 694.3,440.3C696.1,448.6 697.8,456.5 698.6,464.1C699.3,471.7 699.4,478.3 698.8,485.9C698.1,493.5 696.9,501.1 694.8,509.7C692.6,518.3 687.3,533 685.8,537.6" fill="none" stroke="#c9c9c9" stroke-width="1.7" stroke-linecap="round" stroke-dasharray="0.1 2.4"/>
<path d="M684.5,392.2C685.5,395.8 688.2,405.8 690.2,413.7C692.2,421.6 694.9,431.4 696.7,439.7C698.5,448.1 700.3,456.2 701,463.9C701.8,471.6 701.9,478.4 701.2,486.1C700.6,493.8 699.4,501.6 697.2,510.3C695,519 689.7,533.7 688.2,538.4" fill="none" stroke="#c9c9c9" stroke-width="1.7" stroke-linecap="round" stroke-dasharray="0.1 2.4" stroke-dashoffset="1.25"/>
<path d="M696.8,386C697.8,389.7 700.5,400 702.5,408C704.5,416 707,425.3 708.5,434C710,442.7 710.9,451.7 711.4,460C711.9,468.3 712.2,475.3 711.6,484C711,492.7 709.7,502.3 707.5,512C705.3,521.7 699.8,537 698.2,542" fill="none" stroke="#403e3e" stroke-width="7.0" stroke-linecap="butt"/>
<path d="M695.6,386.3C696.5,390 699.3,400.3 701.3,408.3C703.2,416.3 705.8,425.6 707.3,434.2C708.7,442.8 709.6,451.8 710.2,460.1C710.7,468.4 711,475.3 710.4,483.9C709.7,492.5 708.5,502.1 706.3,511.7C704.1,521.3 698.6,536.6 697,541.6" fill="none" stroke="#c9c9c9" stroke-width="1.7" stroke-linecap="round" stroke-dasharray="0.1 2.4"/>
<path d="M698,385.7C699,389.4 701.8,399.7 703.7,407.7C705.7,415.7 708.2,425.1 709.7,433.8C711.2,442.5 712.1,451.5 712.6,459.9C713.2,468.3 713.5,475.4 712.8,484.1C712.2,492.8 711,502.6 708.7,512.3C706.5,522 700.9,537.4 699.4,542.4" fill="none" stroke="#c9c9c9" stroke-width="1.7" stroke-linecap="round" stroke-dasharray="0.1 2.4" stroke-dashoffset="1.25"/>
<path d="M846.8,386C845.8,389.7 842.6,400 840.5,408C838.4,416 835.6,425.3 834,434C832.4,442.7 831.4,451.7 830.8,460C830.2,468.3 829.8,475.3 830.5,484C831.2,492.7 832.4,502.6 835,512C837.6,521.4 844.2,535.8 846,540.5" fill="none" stroke="#403e3e" stroke-width="7.0" stroke-linecap="butt"/>
<path d="M845.6,385.7C844.5,389.3 841.4,399.7 839.3,407.7C837.2,415.7 834.4,425.1 832.8,433.8C831.1,442.5 830.1,451.5 829.6,459.9C829,468.3 828.5,475.4 829.3,484.1C830,492.8 831.2,502.9 833.8,512.3C836.4,521.8 843,536.2 844.8,541" fill="none" stroke="#c9c9c9" stroke-width="1.7" stroke-linecap="round" stroke-dasharray="0.1 2.4"/>
<path d="M848,386.3C847,390 843.8,400.3 841.7,408.3C839.6,416.3 836.8,425.6 835.2,434.2C833.6,442.9 832.6,451.8 832,460.1C831.5,468.4 831.1,475.3 831.7,483.9C832.4,492.5 833.6,502.3 836.2,511.7C838.8,521 845.3,535.3 847.2,540" fill="none" stroke="#c9c9c9" stroke-width="1.7" stroke-linecap="round" stroke-dasharray="0.1 2.4" stroke-dashoffset="1.25"/>
<path d="M865.2,392.5C864.1,396.1 860.5,406.1 858.5,414C856.5,421.9 854.4,431.7 853,440C851.6,448.3 850.7,456.3 850.2,464C849.8,471.7 849.7,478.3 850.3,486C850.9,493.7 852.1,501.6 854,510C855.9,518.4 860.3,532.1 861.6,536.5" fill="none" stroke="#403e3e" stroke-width="7.0" stroke-linecap="butt"/>
<path d="M864,392.1C862.9,395.7 859.3,405.7 857.3,413.7C855.2,421.6 853.2,431.4 851.8,439.8C850.4,448.2 849.4,456.2 849,463.9C848.5,471.6 848.4,478.4 849.1,486.1C849.7,493.8 850.9,501.8 852.8,510.3C854.7,518.7 859.1,532.4 860.4,536.8" fill="none" stroke="#c9c9c9" stroke-width="1.7" stroke-linecap="round" stroke-dasharray="0.1 2.4"/>
<path d="M866.4,392.9C865.3,396.4 861.7,406.4 859.7,414.3C857.7,422.2 855.6,431.9 854.2,440.2C852.9,448.5 851.9,456.5 851.4,464.1C851,471.7 850.9,478.3 851.5,485.9C852.2,493.5 853.3,501.4 855.2,509.7C857.1,518.1 861.5,531.8 862.8,536.2" fill="none" stroke="#c9c9c9" stroke-width="1.7" stroke-linecap="round" stroke-dasharray="0.1 2.4" stroke-dashoffset="1.25"/>
<path d="M666.7,407.2C668.9,406.6 675.3,405.2 680,403.5C684.7,401.8 690,399.3 695,397C700,394.7 705,392 710,389.5C715,387 722.3,383.4 724.8,382.2" fill="none" stroke="#1c1a1a" stroke-width="0.9" />
<path d="M818,381C820.3,382.1 827,385.3 832,387.8C837,390.3 843,393.5 848,396C853,398.5 857.4,400.8 862,402.6C866.6,404.4 873.4,406.3 875.7,407" fill="none" stroke="#1c1a1a" stroke-width="0.9" />
<rect x="665.4" y="395" width="7.8" height="9.5" rx="3.9" fill="#2c2a2a" transform="rotate(-14 669.3 398.5)"/>
<rect x="668.2" y="399" width="2.2" height="4" rx="1.2" fill="#8f8f8f" transform="rotate(-14 669.3 398.5)"/>
<rect x="679.4" y="386.5" width="7.8" height="9.5" rx="3.9" fill="#2c2a2a" transform="rotate(-14 683.3 390)"/>
<rect x="682.2" y="390.5" width="2.2" height="4" rx="1.2" fill="#8f8f8f" transform="rotate(-14 683.3 390)"/>
<rect x="692.9" y="380" width="7.8" height="9.5" rx="3.9" fill="#2c2a2a" transform="rotate(-13 696.8 383.5)"/>
<rect x="695.7" y="384" width="2.2" height="4" rx="1.2" fill="#8f8f8f" transform="rotate(-13 696.8 383.5)"/>
<rect x="842.9" y="380" width="7.8" height="9.5" rx="3.9" fill="#2c2a2a" transform="rotate(14 846.8 383.5)"/>
<rect x="845.7" y="384" width="2.2" height="4" rx="1.2" fill="#8f8f8f" transform="rotate(14 846.8 383.5)"/>
<rect x="861.3" y="386.5" width="7.8" height="9.5" rx="3.9" fill="#2c2a2a" transform="rotate(14 865.2 390)"/>
<rect x="864.1" y="390.5" width="2.2" height="4" rx="1.2" fill="#8f8f8f" transform="rotate(14 865.2 390)"/>
<path d="M667.4,411C668.1,412.8 669.6,416.2 671.4,422C673.1,427.8 676.1,438.3 677.9,446C679.7,453.7 681.6,461.3 682.4,468C683.2,474.7 683.4,479.3 682.7,486C682,492.7 680.8,500.2 678.4,508C676,515.8 670.2,528.8 668.6,533" fill="none" stroke="#242020" stroke-width="2.0" stroke-linecap="butt"/>
<path d="M667.7,408.5L666.6,416.5M667.7,408.5L668.6,414" fill="none" stroke="#1c1a1a" stroke-width="0.9" />
<circle cx="737.1" cy="395.2" r="3.7" fill="#fff" stroke="#262424" stroke-width="0.9"/>
<circle cx="737.1" cy="395.2" r="1.9" fill="#fff" stroke="#262424" stroke-width="0.8"/>
<circle cx="805.9" cy="395.2" r="3.7" fill="#fff" stroke="#262424" stroke-width="0.9"/>
<circle cx="805.9" cy="395.2" r="1.9" fill="#fff" stroke="#262424" stroke-width="0.8"/>
<circle cx="737.1" cy="417.2" r="3.7" fill="#fff" stroke="#262424" stroke-width="0.9"/>
<circle cx="737.1" cy="417.2" r="1.9" fill="#fff" stroke="#262424" stroke-width="0.8"/>
<circle cx="805.9" cy="417.2" r="3.7" fill="#fff" stroke="#262424" stroke-width="0.9"/>
<circle cx="805.9" cy="417.2" r="1.9" fill="#fff" stroke="#262424" stroke-width="0.8"/>
<circle cx="737.1" cy="439.2" r="3.7" fill="#fff" stroke="#262424" stroke-width="0.9"/>
<circle cx="737.1" cy="439.2" r="1.9" fill="#fff" stroke="#262424" stroke-width="0.8"/>
<circle cx="805.9" cy="439.2" r="3.7" fill="#fff" stroke="#262424" stroke-width="0.9"/>
<circle cx="805.9" cy="439.2" r="1.9" fill="#fff" stroke="#262424" stroke-width="0.8"/>
<circle cx="737.1" cy="461.2" r="3.7" fill="#fff" stroke="#262424" stroke-width="0.9"/>
<circle cx="737.1" cy="461.2" r="1.9" fill="#fff" stroke="#262424" stroke-width="0.8"/>
<circle cx="805.9" cy="461.2" r="3.7" fill="#fff" stroke="#262424" stroke-width="0.9"/>
<circle cx="805.9" cy="461.2" r="1.9" fill="#fff" stroke="#262424" stroke-width="0.8"/>
<circle cx="737.1" cy="483.2" r="3.7" fill="#fff" stroke="#262424" stroke-width="0.9"/>
<circle cx="737.1" cy="483.2" r="1.9" fill="#fff" stroke="#262424" stroke-width="0.8"/>
<circle cx="805.9" cy="483.2" r="3.7" fill="#fff" stroke="#262424" stroke-width="0.9"/>
<circle cx="805.9" cy="483.2" r="1.9" fill="#fff" stroke="#262424" stroke-width="0.8"/>
<circle cx="737.1" cy="505.2" r="3.7" fill="#fff" stroke="#262424" stroke-width="0.9"/>
<circle cx="737.1" cy="505.2" r="1.9" fill="#fff" stroke="#262424" stroke-width="0.8"/>
<circle cx="805.9" cy="505.2" r="3.7" fill="#fff" stroke="#262424" stroke-width="0.9"/>
<circle cx="805.9" cy="505.2" r="1.9" fill="#fff" stroke="#262424" stroke-width="0.8"/>
<circle cx="737.1" cy="527.2" r="3.7" fill="#fff" stroke="#262424" stroke-width="0.9"/>
<circle cx="737.1" cy="527.2" r="1.9" fill="#fff" stroke="#262424" stroke-width="0.8"/>
<circle cx="805.9" cy="527.2" r="3.7" fill="#fff" stroke="#262424" stroke-width="0.9"/>
<circle cx="805.9" cy="527.2" r="1.9" fill="#fff" stroke="#262424" stroke-width="0.8"/>
<circle cx="737.1" cy="549.2" r="3.7" fill="#fff" stroke="#262424" stroke-width="0.9"/>
<circle cx="737.1" cy="549.2" r="1.9" fill="#fff" stroke="#262424" stroke-width="0.8"/>
<circle cx="805.9" cy="549.2" r="3.7" fill="#fff" stroke="#262424" stroke-width="0.9"/>
<circle cx="805.9" cy="549.2" r="1.9" fill="#fff" stroke="#262424" stroke-width="0.8"/>
<path d="M737.1,395.2L805.9,395.2" fill="none" stroke="#262424" stroke-width="3.2" stroke-linecap="round"/>
<path d="M737.1,395.2L805.9,395.2" fill="none" stroke="#fff" stroke-width="1.5000000000000002" stroke-linecap="round"/>
<path d="M737.1,549.2L805.9,549.2" fill="none" stroke="#262424" stroke-width="3.2" stroke-linecap="round"/>
<path d="M737.1,549.2L805.9,549.2" fill="none" stroke="#fff" stroke-width="1.5000000000000002" stroke-linecap="round"/>
<path d="M737.1,417.2L805.9,439.2" fill="none" stroke="#262424" stroke-width="3.2" stroke-linecap="round"/>
<path d="M737.1,417.2L805.9,439.2" fill="none" stroke="#fff" stroke-width="1.5000000000000002" stroke-linecap="round"/>
<path d="M805.9,417.2L737.1,439.2" fill="none" stroke="#262424" stroke-width="3.2" stroke-linecap="round"/>
<path d="M805.9,417.2L737.1,439.2" fill="none" stroke="#fff" stroke-width="1.5000000000000002" stroke-linecap="round"/>
<path d="M737.1,505.2L805.9,527.2" fill="none" stroke="#262424" stroke-width="3.2" stroke-linecap="round"/>
<path d="M737.1,505.2L805.9,527.2" fill="none" stroke="#fff" stroke-width="1.5000000000000002" stroke-linecap="round"/>
<path d="M805.9,505.2L737.1,527.2" fill="none" stroke="#262424" stroke-width="3.2" stroke-linecap="round"/>
<path d="M805.9,505.2L737.1,527.2" fill="none" stroke="#fff" stroke-width="1.5000000000000002" stroke-linecap="round"/>
<path d="M737.1,461.2L772.8,468.6" fill="none" stroke="#262424" stroke-width="3.1" stroke-linecap="round"/>
<path d="M737.1,461.2L772.8,468.6" fill="none" stroke="#fff" stroke-width="1.4000000000000001" stroke-linecap="round"/>
<path d="M737.1,483.2L772.8,468.6" fill="none" stroke="#262424" stroke-width="3.1" stroke-linecap="round"/>
<path d="M737.1,483.2L772.8,468.6" fill="none" stroke="#fff" stroke-width="1.4000000000000001" stroke-linecap="round"/>
<path d="M805.9,461.2L772.8,468.6" fill="none" stroke="#262424" stroke-width="3.1" stroke-linecap="round"/>
<path d="M805.9,461.2L772.8,468.6" fill="none" stroke="#fff" stroke-width="1.4000000000000001" stroke-linecap="round"/>
<path d="M805.9,483.2L772.8,468.6" fill="none" stroke="#262424" stroke-width="3.1" stroke-linecap="round"/>
<path d="M805.9,483.2L772.8,468.6" fill="none" stroke="#fff" stroke-width="1.4000000000000001" stroke-linecap="round"/>
<path d="M770.3,466.1L739.2,442.2L732.4,448.5L733.5,453.5L769.3,469.8ZM769.3,469.6L737.5,489.5L741.5,493L746,490L771.6,472.1Z" fill="#fff" stroke="#262424" stroke-width="0.9" />
<path d="M770.4,471.4 L752,567 Q753,575 758,580.3 L758.6,556 L773,472.2 Z" fill="#fff" stroke="#262424" stroke-width="0.9" />
<path d="M770.4,471.4 L752,567 Q753,575 758,580.3 L758.6,556 L773,472.2 Z" fill="#fff" stroke="#262424" stroke-width="0.9" transform="translate(1545.6,0) scale(-1,1)"/>
<circle cx="772.8" cy="468.6" r="3.6" fill="#fff" stroke="#262424" stroke-width="1"/>
<path d="M736.6,389.2L732.8,382.2L736.6,384L740.4,382.2Z" fill="#111" stroke="none"/>
<path d="M806.5,389.2L802.7,382.2L806.5,384L810.3,382.2Z" fill="#111" stroke="none"/>
</g>
<g id="boxes">
<rect x="547.2" y="63.2" width="92.8" height="224.6" rx="8" fill="none" stroke="#2e2c2c" stroke-width="1"/>
<rect x="907.4" y="63.2" width="92.7" height="224.6" rx="8" fill="none" stroke="#2e2c2c" stroke-width="1"/>
<rect x="547.2" y="353.2" width="92.8" height="224.6" rx="8" fill="none" stroke="#2e2c2c" stroke-width="1"/>
<rect x="907.4" y="353.2" width="92.7" height="224.4" rx="8" fill="none" stroke="#2e2c2c" stroke-width="1"/>
<path d="M587.6,83V75.6a6,6 0 0 1 12,0V83Z" fill="#c8c8c8" stroke="#555353" stroke-width="0.8"/>
<path d="M587.6,268.5V275.4a6,6 0 0 0 12,0V268.5Z" fill="#c8c8c8" stroke="#555353" stroke-width="0.8"/>
<path d="M593.6,76.5L593.6,84M593.6,267L593.6,276.5" fill="none" stroke="#2b2725" stroke-width="6.0" stroke-linecap="round"/>
<path d="M593.6,82.5L593.6,269" fill="none" stroke="#2b2725" stroke-width="8.2" stroke-linecap="butt"/>
<path d="M589.3,84L589.3,268" fill="none" stroke="#2b2725" stroke-width="2.2" stroke-linecap="round" stroke-dasharray="0.1 2.55"/>
<path d="M597.9,84L597.9,268" fill="none" stroke="#2b2725" stroke-width="2.2" stroke-linecap="round" stroke-dasharray="0.1 2.55"/>
<path d="M592,80L592,274M595.2,81.2L595.2,274" fill="none" stroke="#4a4542" stroke-width="1.2" stroke-linecap="round" stroke-dasharray="0.1 2.55"/>
<path d="M949.5,273.5V76.6a3.9,3.9 0 0 1 7.8,0V273.5a3.9,3.9 0 0 1 -7.8,0Z" fill="#d9d9d9" stroke="#3a3838" stroke-width="0.9"/>
<path d="M579.2,359.3H591.7L592.6,377V571.7H580.8V381.5Z" fill="#dcdcdc" stroke="#8c8c8c" stroke-width="0.7"/>
<path d="M608,359.3H595.5L594.6,377V571.7H606.6V381.5Z" fill="#dcdcdc" stroke="#8c8c8c" stroke-width="0.7"/>
<path d="M593.6,386L593.6,568" fill="none" stroke="#2a2624" stroke-width="5.6" stroke-linecap="butt"/>
<path d="M590.7,386L590.7,568M596.5,387L596.5,568" fill="none" stroke="#2a2624" stroke-width="1.4" stroke-linecap="butt" stroke-dasharray="1 1"/>
<path d="M593.6,386L593.6,566" fill="none" stroke="#6a6664" stroke-width="0.7" stroke-linecap="butt" stroke-dasharray="1 1"/>
<rect x="590.1" y="566" width="7" height="5.6" fill="#1f1c1b"/>
<rect x="592.8" y="568" width="1.6" height="1.6" fill="#bbb"/>
<path d="M590.1,376.3 q3.5,-1.8 7,0 l1.6,2.4 l-2.2,2.6 v5.5 h-5.8 v-5.5 l-2.2,-2.6 Z" fill="#3a3634" stroke="#1f1c1b" stroke-width="0.7"/>
<rect x="592.2" y="377" width="2.8" height="16.5" rx="1.2" fill="#6e6a68" stroke="#262322" stroke-width="0.7"/>
<path d="M933.6,367L974.4,367" fill="none" stroke="#302e2e" stroke-width="2.9" stroke-linecap="round"/>
<path d="M933.6,367L974.4,367" fill="none" stroke="#fff" stroke-width="1.2" stroke-linecap="round"/>
<path d="M933.6,563L974.4,563" fill="none" stroke="#302e2e" stroke-width="2.9" stroke-linecap="round"/>
<path d="M933.6,563L974.4,563" fill="none" stroke="#fff" stroke-width="1.2" stroke-linecap="round"/>
<path d="M933.6,367L974.4,380.1" fill="none" stroke="#302e2e" stroke-width="2.9" stroke-linecap="round"/>
<path d="M933.6,367L974.4,380.1" fill="none" stroke="#fff" stroke-width="1.2" stroke-linecap="round"/>
<path d="M974.4,367L933.6,380.1" fill="none" stroke="#302e2e" stroke-width="2.9" stroke-linecap="round"/>
<path d="M974.4,367L933.6,380.1" fill="none" stroke="#fff" stroke-width="1.2" stroke-linecap="round"/>
<path d="M933.6,380.1L974.4,393.1" fill="none" stroke="#302e2e" stroke-width="2.9" stroke-linecap="round"/>
<path d="M933.6,380.1L974.4,393.1" fill="none" stroke="#fff" stroke-width="1.2" stroke-linecap="round"/>
<path d="M974.4,380.1L933.6,393.1" fill="none" stroke="#302e2e" stroke-width="2.9" stroke-linecap="round"/>
<path d="M974.4,380.1L933.6,393.1" fill="none" stroke="#fff" stroke-width="1.2" stroke-linecap="round"/>
<path d="M933.6,393.1L974.4,406.2" fill="none" stroke="#302e2e" stroke-width="2.9" stroke-linecap="round"/>
<path d="M933.6,393.1L974.4,406.2" fill="none" stroke="#fff" stroke-width="1.2" stroke-linecap="round"/>
<path d="M974.4,393.1L933.6,406.2" fill="none" stroke="#302e2e" stroke-width="2.9" stroke-linecap="round"/>
<path d="M974.4,393.1L933.6,406.2" fill="none" stroke="#fff" stroke-width="1.2" stroke-linecap="round"/>
<path d="M933.6,406.2L974.4,419.3" fill="none" stroke="#302e2e" stroke-width="2.9" stroke-linecap="round"/>
<path d="M933.6,406.2L974.4,419.3" fill="none" stroke="#fff" stroke-width="1.2" stroke-linecap="round"/>
<path d="M974.4,406.2L933.6,419.3" fill="none" stroke="#302e2e" stroke-width="2.9" stroke-linecap="round"/>
<path d="M974.4,406.2L933.6,419.3" fill="none" stroke="#fff" stroke-width="1.2" stroke-linecap="round"/>
<path d="M933.6,419.3L974.4,432.3" fill="none" stroke="#302e2e" stroke-width="2.9" stroke-linecap="round"/>
<path d="M933.6,419.3L974.4,432.3" fill="none" stroke="#fff" stroke-width="1.2" stroke-linecap="round"/>
<path d="M974.4,419.3L933.6,432.3" fill="none" stroke="#302e2e" stroke-width="2.9" stroke-linecap="round"/>
<path d="M974.4,419.3L933.6,432.3" fill="none" stroke="#fff" stroke-width="1.2" stroke-linecap="round"/>
<path d="M933.6,432.3L974.4,445.4" fill="none" stroke="#302e2e" stroke-width="2.9" stroke-linecap="round"/>
<path d="M933.6,432.3L974.4,445.4" fill="none" stroke="#fff" stroke-width="1.2" stroke-linecap="round"/>
<path d="M974.4,432.3L933.6,445.4" fill="none" stroke="#302e2e" stroke-width="2.9" stroke-linecap="round"/>
<path d="M974.4,432.3L933.6,445.4" fill="none" stroke="#fff" stroke-width="1.2" stroke-linecap="round"/>
<path d="M933.6,445.4L974.4,458.5" fill="none" stroke="#302e2e" stroke-width="2.9" stroke-linecap="round"/>
<path d="M933.6,445.4L974.4,458.5" fill="none" stroke="#fff" stroke-width="1.2" stroke-linecap="round"/>
<path d="M974.4,445.4L933.6,458.5" fill="none" stroke="#302e2e" stroke-width="2.9" stroke-linecap="round"/>
<path d="M974.4,445.4L933.6,458.5" fill="none" stroke="#fff" stroke-width="1.2" stroke-linecap="round"/>
<path d="M933.6,458.5L974.4,471.5" fill="none" stroke="#302e2e" stroke-width="2.9" stroke-linecap="round"/>
<path d="M933.6,458.5L974.4,471.5" fill="none" stroke="#fff" stroke-width="1.2" stroke-linecap="round"/>
<path d="M974.4,458.5L933.6,471.5" fill="none" stroke="#302e2e" stroke-width="2.9" stroke-linecap="round"/>
<path d="M974.4,458.5L933.6,471.5" fill="none" stroke="#fff" stroke-width="1.2" stroke-linecap="round"/>
<path d="M933.6,471.5L974.4,484.6" fill="none" stroke="#302e2e" stroke-width="2.9" stroke-linecap="round"/>
<path d="M933.6,471.5L974.4,484.6" fill="none" stroke="#fff" stroke-width="1.2" stroke-linecap="round"/>
<path d="M974.4,471.5L933.6,484.6" fill="none" stroke="#302e2e" stroke-width="2.9" stroke-linecap="round"/>
<path d="M974.4,471.5L933.6,484.6" fill="none" stroke="#fff" stroke-width="1.2" stroke-linecap="round"/>
<path d="M933.6,484.6L974.4,497.7" fill="none" stroke="#302e2e" stroke-width="2.9" stroke-linecap="round"/>
<path d="M933.6,484.6L974.4,497.7" fill="none" stroke="#fff" stroke-width="1.2" stroke-linecap="round"/>
<path d="M974.4,484.6L933.6,497.7" fill="none" stroke="#302e2e" stroke-width="2.9" stroke-linecap="round"/>
<path d="M974.4,484.6L933.6,497.7" fill="none" stroke="#fff" stroke-width="1.2" stroke-linecap="round"/>
<path d="M933.6,497.7L974.4,510.7" fill="none" stroke="#302e2e" stroke-width="2.9" stroke-linecap="round"/>
<path d="M933.6,497.7L974.4,510.7" fill="none" stroke="#fff" stroke-width="1.2" stroke-linecap="round"/>
<path d="M974.4,497.7L933.6,510.7" fill="none" stroke="#302e2e" stroke-width="2.9" stroke-linecap="round"/>
<path d="M974.4,497.7L933.6,510.7" fill="none" stroke="#fff" stroke-width="1.2" stroke-linecap="round"/>
<path d="M933.6,510.7L974.4,523.8" fill="none" stroke="#302e2e" stroke-width="2.9" stroke-linecap="round"/>
<path d="M933.6,510.7L974.4,523.8" fill="none" stroke="#fff" stroke-width="1.2" stroke-linecap="round"/>
<path d="M974.4,510.7L933.6,523.8" fill="none" stroke="#302e2e" stroke-width="2.9" stroke-linecap="round"/>
<path d="M974.4,510.7L933.6,523.8" fill="none" stroke="#fff" stroke-width="1.2" stroke-linecap="round"/>
<path d="M933.6,523.8L974.4,536.9" fill="none" stroke="#302e2e" stroke-width="2.9" stroke-linecap="round"/>
<path d="M933.6,523.8L974.4,536.9" fill="none" stroke="#fff" stroke-width="1.2" stroke-linecap="round"/>
<path d="M974.4,523.8L933.6,536.9" fill="none" stroke="#302e2e" stroke-width="2.9" stroke-linecap="round"/>
<path d="M974.4,523.8L933.6,536.9" fill="none" stroke="#fff" stroke-width="1.2" stroke-linecap="round"/>
<path d="M933.6,536.9L974.4,549.9" fill="none" stroke="#302e2e" stroke-width="2.9" stroke-linecap="round"/>
<path d="M933.6,536.9L974.4,549.9" fill="none" stroke="#fff" stroke-width="1.2" stroke-linecap="round"/>
<path d="M974.4,536.9L933.6,549.9" fill="none" stroke="#302e2e" stroke-width="2.9" stroke-linecap="round"/>
<path d="M974.4,536.9L933.6,549.9" fill="none" stroke="#fff" stroke-width="1.2" stroke-linecap="round"/>
<path d="M933.6,549.9L974.4,563" fill="none" stroke="#302e2e" stroke-width="2.9" stroke-linecap="round"/>
<path d="M933.6,549.9L974.4,563" fill="none" stroke="#fff" stroke-width="1.2" stroke-linecap="round"/>
<path d="M974.4,549.9L933.6,563" fill="none" stroke="#302e2e" stroke-width="2.9" stroke-linecap="round"/>
<path d="M974.4,549.9L933.6,563" fill="none" stroke="#fff" stroke-width="1.2" stroke-linecap="round"/>
<path d="M953.4,466.3 L941.1,561.5 L943.5,562.8 L951.9,466.3 Z" fill="#e9e6e9" stroke="#3a3838" stroke-width="0.8" />
<path d="M954,466.3 L966.3,561.5 L963.9,562.8 L955.5,466.3 Z" fill="#e9e6e9" stroke="#3a3838" stroke-width="0.8" />
<path d="M952.2,461.3L929.4,443.5L926.7,441.5L927.9,447.5L951.2,464.3ZM951.7,463.3L934.4,481.2L933.1,483.6L936.4,483.4L952.9,465.8Z" fill="#ece9ec" stroke="#3a3838" stroke-width="0.8" />
<path d="M955.2,461.3L978,443.5L980.7,441.5L979.5,447.5L956.2,464.3ZM955.7,463.3L973,481.2L974.3,483.6L971,483.4L954.5,465.8Z" fill="#ece9ec" stroke="#3a3838" stroke-width="0.8" />
<ellipse cx="953.7" cy="463" rx="2.1" ry="3.4" fill="#e9e6e9" stroke="#3a3838" stroke-width="0.8"/>
</g>
<g id="pattern">
<rect x="550.2" y="617.5" width="444.6" height="156.5" rx="9" fill="none" stroke="#2e2c2c" stroke-width="1"/>
<path d="M559,645.2C573,636.2 584.6,626.6 600.6,626.6C616.6,626.6 628.3,636.2 642.3,645.2Q618.7,696.8 642.3,748.3C628.3,756.3 616.6,764.7 600.6,764.7C584.6,764.7 573.5,756.3 559.5,748.3Q582.3,696.8 559,645.2Z" fill="none" stroke="#1c1a1a" stroke-width="0.9" />
<path d="M565.6,647.7C579.6,638.7 584.6,632 600.6,632C616.6,632 621.4,638.7 635.4,647.7Q615.4,696.2 635.4,744.6C621.4,752.6 616.6,758.8 600.6,758.8C584.6,758.8 580.1,752.6 566.1,744.6Q586.6,696.2 565.6,647.7Z" fill="none" stroke="#1c1a1a" stroke-width="0.9" />
<path d="M583.7,631.3v2.2M617.7,631.3v2.2" fill="none" stroke="#1c1a1a" stroke-width="1.2" />
<text x="600.6" y="666" font-size="5.3" text-anchor="middle" fill="#3a3838">Front</text>
<text x="600.6" y="671.9" font-size="5.3" text-anchor="middle" fill="#3a3838">No. 1</text>
<path d="M600.6,677L600.6,738.5" fill="none" stroke="#2e2c2c" stroke-width="0.8" />
<path d="M600.6,675.8L599.5,678.6L601.7,678.6Z" fill="#2e2c2c"/>
<path d="M600.6,739.7L599.5,736.9L601.7,736.9Z" fill="#2e2c2c"/>
<path d="M648.2,648.5Q668,651.3 685.6,657.5Q673.5,701.8 685.4,746Q670,757 648.8,761.8Q656.1,705.1 648.2,648.5Z" fill="none" stroke="#1c1a1a" stroke-width="0.9" />
<path d="M655,656.3Q668,657.6 679.7,661.5Q671.2,702.2 680.4,743Q669,749.5 656,752.4Q659.1,704.3 655,656.3Z" fill="none" stroke="#1c1a1a" stroke-width="0.9" />
<path d="M668.7,653.2v2.2" fill="none" stroke="#1c1a1a" stroke-width="1.2" />
<text x="668.5" y="668.6" font-size="5.3" text-anchor="middle" fill="#3a3838">Front</text>
<text x="668.5" y="674.5" font-size="5.3" text-anchor="middle" fill="#3a3838">No. 2</text>
<path d="M665.8,682.5L665.8,733.5" fill="none" stroke="#2e2c2c" stroke-width="0.8" />
<path d="M665.8,681.3L664.7,684.1L666.9,684.1Z" fill="#2e2c2c"/>
<path d="M665.8,734.7L664.7,731.9L666.9,731.9Z" fill="#2e2c2c"/>
<path d="M697.3,652.2Q718,655.3 740,655.7Q727.1,697.9 740.7,740Q720,746.2 696.9,748.3Q704.1,700.2 697.3,652.2Z" fill="none" stroke="#1c1a1a" stroke-width="0.9" />
<path d="M703.2,658.7Q718,660.5 734.4,660.4Q725.8,697 734.4,733.7Q719,738.8 702.7,740Q708.5,699.4 703.2,658.7Z" fill="none" stroke="#1c1a1a" stroke-width="0.9" />
<path d="M719.5,655.3v2.2" fill="none" stroke="#1c1a1a" stroke-width="1.2" />
<text x="720.8" y="670.7" font-size="5.3" text-anchor="middle" fill="#3a3838">Front</text>
<text x="720.8" y="676.6" font-size="5.3" text-anchor="middle" fill="#3a3838">No. 3</text>
<path d="M718.4,679.4L718.4,724.5" fill="none" stroke="#2e2c2c" stroke-width="0.8" />
<path d="M718.4,678.2L717.3,681L719.5,681Z" fill="#2e2c2c"/>
<path d="M718.4,725.7L717.3,722.9L719.5,722.9Z" fill="#2e2c2c"/>
<path d="M747.3,654.9Q769,655.4 790.3,654Q784.1,695.7 794.6,737.4Q773,740.8 751,739.1Q757.3,697 747.3,654.9Z" fill="none" stroke="#1c1a1a" stroke-width="0.9" />
<path d="M754,660.6Q769,660.9 784.2,659.6Q781.3,696 788,732.3Q772,735 756.8,733.6Q761.4,697.1 754,660.6Z" fill="none" stroke="#1c1a1a" stroke-width="0.9" />
<path d="M769.8,654.3v2.2" fill="none" stroke="#1c1a1a" stroke-width="1.2" />
<text x="771.6" y="670.7" font-size="5.3" text-anchor="middle" fill="#3a3838">Back</text>
<text x="771.6" y="676.6" font-size="5.3" text-anchor="middle" fill="#3a3838">No. 3</text>
<path d="M769.4,679L769.4,723" fill="none" stroke="#2e2c2c" stroke-width="0.8" />
<path d="M769.4,677.8L768.3,680.6L770.5,680.6Z" fill="#2e2c2c"/>
<path d="M769.4,724.2L768.3,721.4L770.5,721.4Z" fill="#2e2c2c"/>
<path d="M799.4,653.4Q823,647.5 845.5,638.6Q836.3,687.6 846.7,736.6Q826,738.6 804.5,736.6Q802.6,695 799.4,653.4Z" fill="none" stroke="#1c1a1a" stroke-width="0.9" />
<path d="M805.7,658Q823,653.8 839.2,647.5Q832,688.9 840.9,730.2Q825,732.4 809.7,730.7Q808.5,694.4 805.7,658Z" fill="none" stroke="#1c1a1a" stroke-width="0.9" />
<path d="M821.6,647v2.2" fill="none" stroke="#1c1a1a" stroke-width="1.2" />
<text x="824.4" y="666" font-size="5.3" text-anchor="middle" fill="#3a3838">Back</text>
<text x="824.4" y="671.9" font-size="5.3" text-anchor="middle" fill="#3a3838">No. 2</text>
<path d="M822.1,674.7L822.1,718.3" fill="none" stroke="#2e2c2c" stroke-width="0.8" />
<path d="M822.1,673.5L821,676.3L823.2,676.3Z" fill="#2e2c2c"/>
<path d="M822.1,719.5L821,716.7L823.2,716.7Z" fill="#2e2c2c"/>
<path d="M856.2,646.5Q877,638.2 896.5,636.2Q914,638 929.7,645.3V735Q914,741.5 896.5,747.3Q874,744.5 853.2,735.8Q864.5,690 856.2,646.5ZM896.5,636.2V747.3" fill="none" stroke="#1c1a1a" stroke-width="0.9" />
<path d="M861.8,649.9Q880,643 896.5,641.7Q913,643.8 929.7,650.8M929.7,730.2Q913,736 896.5,741.8Q877,739.3 859.6,733.2Q868.9,690 861.8,649.9" fill="none" stroke="#1c1a1a" stroke-width="0.9" />
<path d="M877.8,637.8v2.2" fill="none" stroke="#1c1a1a" stroke-width="1.2" />
<text x="880.2" y="663.2" font-size="5.3" text-anchor="middle" fill="#3a3838">Back</text>
<text x="880.2" y="669.1" font-size="5.3" text-anchor="middle" fill="#3a3838">No. 1</text>
<path d="M877.9,671.5L877.9,723" fill="none" stroke="#2e2c2c" stroke-width="0.8" />
<path d="M877.9,670.3L876.8,673.1L879,673.1Z" fill="#2e2c2c"/>
<path d="M877.9,724.2L876.8,721.4L879,721.4Z" fill="#2e2c2c"/>
<path d="M899.6,672.1H907.2V722H899.6" fill="none" stroke="#2e2c2c" stroke-width="0.9" />
<rect x="898.3" y="671.2" width="1.8" height="1.8" fill="#2e2c2c"/><rect x="898.3" y="721.1" width="1.8" height="1.8" fill="#2e2c2c"/>
<path d="M935.3,636.5H982.6V747.6H935.3Z" fill="none" stroke="#1c1a1a" stroke-width="0.9" />
<path d="M936.4,636.5V747.6" fill="none" stroke="#1c1a1a" stroke-width="0.9" />
<path d="M937.4,642.3H978V742.4H937.4Z" fill="none" stroke="#1c1a1a" stroke-width="0.9" />
<text x="957.6" y="665" font-size="5.3" text-anchor="middle" fill="#3a3838">Modesty</text>
<text x="957.6" y="670.9" font-size="5.3" text-anchor="middle" fill="#3a3838">Panel</text>
<path d="M956.9,675.4L956.9,727.6" fill="none" stroke="#2e2c2c" stroke-width="0.8" />
<path d="M956.9,674.2L955.8,677L958,677Z" fill="#2e2c2c"/>
<path d="M956.9,728.8L955.8,726L958,726Z" fill="#2e2c2c"/>
</g>
<text x="254" y="36.5" font-size="12.6" text-anchor="middle" fill="#1a1a1a" >Pattern #108 -&#160; Measurement</text>
<text x="772" y="36.5" font-size="12.6" text-anchor="middle" fill="#1a1a1a" >Pattern #108-&#160; Hardware</text>
<text x="593.5" y="58.5" font-size="12.6" text-anchor="middle" fill="#1a1a1a" >Boning</text>
<text x="953.4" y="58.5" font-size="12.6" text-anchor="middle" fill="#1a1a1a" >Boning</text>
<text x="593.5" y="306" font-size="12.6" text-anchor="middle" fill="#1a1a1a" >Spiral Steel Bone - 12</text>
<text x="952.5" y="306" font-size="12.6" text-anchor="middle" fill="#1a1a1a" >Flat Steel Bone - 4</text>
<text x="593.7" y="348.5" font-size="12.6" text-anchor="middle" fill="#1a1a1a" >Side opening</text>
<text x="954.5" y="348.5" font-size="12.6" text-anchor="middle" fill="#1a1a1a" >Back lacing</text>
<text x="593.5" y="595.7" font-size="12.6" text-anchor="middle" fill="#1a1a1a" >Zipper 5.75&quot;</text>
<text x="954.7" y="595.6" font-size="12.6" text-anchor="middle" fill="#1a1a1a" >Lacing - 8 mtrs</text>
<text x="769.2" y="334.5" font-size="14" text-anchor="middle" fill="#1a1a1a" >Grommets 8 X 2 = 16</text>
<text x="772.5" y="611.7" font-size="12.6" text-anchor="middle" fill="#1a1a1a" >Pattern view&#160; /&#160; Cut 2 Pcs - 5 X 2 = 10</text>
<text x="771.4" y="791.4" font-size="12.65" text-anchor="middle" fill="#1a1a1a" >No. of panels - 11&#160; , Modesty panel - 1 (6 Inches Wide)</text>
<text x="16.9" y="717.4" font-size="12.4" text-anchor="start" fill="#1a1a1a" >A - Front length - 11.0 inch (28.0 cm)</text>
<text x="16.9" y="746.4" font-size="12.3" text-anchor="start" fill="#1a1a1a" >C - Side length - 6.5 inch (16.5 cm)</text>
<text x="259.5" y="717.4" font-size="12.4" text-anchor="start" fill="#1a1a1a" >B - Underbust to bottom length - 9.5 inch (24 cm)</text>
<text x="259.5" y="746.4" font-size="12.3" text-anchor="start" fill="#1a1a1a" >D - Back length - 9.5 inch (24.0 cm)</text>
<text x="84" y="201.5" font-size="22" text-anchor="middle" fill="#1a1a1a" >A</text>
<text x="420" y="201.5" font-size="22" text-anchor="middle" fill="#1a1a1a" >B</text>
<text x="79.3" y="544.8" font-size="22" text-anchor="middle" fill="#1a1a1a" >C</text>
<text x="419.3" y="545" font-size="22" text-anchor="middle" fill="#1a1a1a" >D</text>
<g transform="translate(844.3,26.4) scale(0.88,1)"><text x="0" y="0" font-size="31" font-weight="bold" letter-spacing="4.5" fill="#b7b7b7" stroke="#b7b7b7" stroke-width="0.7">corset<tspan dx="1.5" fill="#e8bde8" stroke="#e8bde8">deal</tspan></text></g>
<text x="1017.3" y="39" font-size="9.8" text-anchor="end" letter-spacing="0.45" fill="#b2b2b2">authentic corset store</text>
</svg>
<svg id="wm" width="1024" height="815" viewBox="0 0 1024 815">
<g transform="translate(-1,168.5) rotate(-30.0) scale(1.12)"><text transform="scale(0.88,1)" x="0" y="0" font-size="31" font-weight="bold" letter-spacing="4.5" fill="#e5e5e7" stroke="#e5e5e7" stroke-width="0.35">corset<tspan dx="1.5" fill="#f3e4f7" stroke="#f3e4f7">deal</tspan></text><text x="172.5" y="12.6" font-size="9.8" text-anchor="end" letter-spacing="0.45" fill="#e2e2e2">authentic corset store</text></g>
<g transform="translate(199,168.5) rotate(-30.0) scale(1.12)"><text transform="scale(0.88,1)" x="0" y="0" font-size="31" font-weight="bold" letter-spacing="4.5" fill="#e5e5e7" stroke="#e5e5e7" stroke-width="0.35">corset<tspan dx="1.5" fill="#f3e4f7" stroke="#f3e4f7">deal</tspan></text><text x="172.5" y="12.6" font-size="9.8" text-anchor="end" letter-spacing="0.45" fill="#e2e2e2">authentic corset store</text></g>
<g transform="translate(395,168.5) rotate(-30.0) scale(1.12)"><text transform="scale(0.88,1)" x="0" y="0" font-size="31" font-weight="bold" letter-spacing="4.5" fill="#e5e5e7" stroke="#e5e5e7" stroke-width="0.35">corset<tspan dx="1.5" fill="#f3e4f7" stroke="#f3e4f7">deal</tspan></text><text x="172.5" y="12.6" font-size="9.8" text-anchor="end" letter-spacing="0.45" fill="#e2e2e2">authentic corset store</text></g>
<g transform="translate(600,168.5) rotate(-30.0) scale(1.12)"><text transform="scale(0.88,1)" x="0" y="0" font-size="31" font-weight="bold" letter-spacing="4.5" fill="#e5e5e7" stroke="#e5e5e7" stroke-width="0.35">corset<tspan dx="1.5" fill="#f3e4f7" stroke="#f3e4f7">deal</tspan></text><text x="172.5" y="12.6" font-size="9.8" text-anchor="end" letter-spacing="0.45" fill="#e2e2e2">authentic corset store</text></g>
<g transform="translate(805,168.5) rotate(-30.0) scale(1.12)"><text transform="scale(0.88,1)" x="0" y="0" font-size="31" font-weight="bold" letter-spacing="4.5" fill="#e5e5e7" stroke="#e5e5e7" stroke-width="0.35">corset<tspan dx="1.5" fill="#f3e4f7" stroke="#f3e4f7">deal</tspan></text><text x="172.5" y="12.6" font-size="9.8" text-anchor="end" letter-spacing="0.45" fill="#e2e2e2">authentic corset store</text></g>
<g transform="translate(1011,168.5) rotate(-30.0) scale(1.12)"><text transform="scale(0.88,1)" x="0" y="0" font-size="31" font-weight="bold" letter-spacing="4.5" fill="#e5e5e7" stroke="#e5e5e7" stroke-width="0.35">corset<tspan dx="1.5" fill="#f3e4f7" stroke="#f3e4f7">deal</tspan></text><text x="172.5" y="12.6" font-size="9.8" text-anchor="end" letter-spacing="0.45" fill="#e2e2e2">authentic corset store</text></g>
<g transform="translate(-137,374) rotate(-30.0) scale(1.12)"><text transform="scale(0.88,1)" x="0" y="0" font-size="31" font-weight="bold" letter-spacing="4.5" fill="#e5e5e7" stroke="#e5e5e7" stroke-width="0.35">corset<tspan dx="1.5" fill="#f3e4f7" stroke="#f3e4f7">deal</tspan></text><text x="172.5" y="12.6" font-size="9.8" text-anchor="end" letter-spacing="0.45" fill="#e2e2e2">authentic corset store</text></g>
<g transform="translate(63,374) rotate(-30.0) scale(1.12)"><text transform="scale(0.88,1)" x="0" y="0" font-size="31" font-weight="bold" letter-spacing="4.5" fill="#e5e5e7" stroke="#e5e5e7" stroke-width="0.35">corset<tspan dx="1.5" fill="#f3e4f7" stroke="#f3e4f7">deal</tspan></text><text x="172.5" y="12.6" font-size="9.8" text-anchor="end" letter-spacing="0.45" fill="#e2e2e2">authentic corset store</text></g>
<g transform="translate(263,374) rotate(-30.0) scale(1.12)"><text transform="scale(0.88,1)" x="0" y="0" font-size="31" font-weight="bold" letter-spacing="4.5" fill="#e5e5e7" stroke="#e5e5e7" stroke-width="0.35">corset<tspan dx="1.5" fill="#f3e4f7" stroke="#f3e4f7">deal</tspan></text><text x="172.5" y="12.6" font-size="9.8" text-anchor="end" letter-spacing="0.45" fill="#e2e2e2">authentic corset store</text></g>
<g transform="translate(462.5,374) rotate(-30.0) scale(1.12)"><text transform="scale(0.88,1)" x="0" y="0" font-size="31" font-weight="bold" letter-spacing="4.5" fill="#e5e5e7" stroke="#e5e5e7" stroke-width="0.35">corset<tspan dx="1.5" fill="#f3e4f7" stroke="#f3e4f7">deal</tspan></text><text x="172.5" y="12.6" font-size="9.8" text-anchor="end" letter-spacing="0.45" fill="#e2e2e2">authentic corset store</text></g>
<g transform="translate(667,374) rotate(-30.0) scale(1.12)"><text transform="scale(0.88,1)" x="0" y="0" font-size="31" font-weight="bold" letter-spacing="4.5" fill="#e5e5e7" stroke="#e5e5e7" stroke-width="0.35">corset<tspan dx="1.5" fill="#f3e4f7" stroke="#f3e4f7">deal</tspan></text><text x="172.5" y="12.6" font-size="9.8" text-anchor="end" letter-spacing="0.45" fill="#e2e2e2">authentic corset store</text></g>
<g transform="translate(871,374) rotate(-30.0) scale(1.12)"><text transform="scale(0.88,1)" x="0" y="0" font-size="31" font-weight="bold" letter-spacing="4.5" fill="#e5e5e7" stroke="#e5e5e7" stroke-width="0.35">corset<tspan dx="1.5" fill="#f3e4f7" stroke="#f3e4f7">deal</tspan></text><text x="172.5" y="12.6" font-size="9.8" text-anchor="end" letter-spacing="0.45" fill="#e2e2e2">authentic corset store</text></g>
<g transform="translate(-1,568.5) rotate(-30.0) scale(1.12)"><text transform="scale(0.88,1)" x="0" y="0" font-size="31" font-weight="bold" letter-spacing="4.5" fill="#e5e5e7" stroke="#e5e5e7" stroke-width="0.35">corset<tspan dx="1.5" fill="#f3e4f7" stroke="#f3e4f7">deal</tspan></text><text x="172.5" y="12.6" font-size="9.8" text-anchor="end" letter-spacing="0.45" fill="#e2e2e2">authentic corset store</text></g>
<g transform="translate(199,568.5) rotate(-30.0) scale(1.12)"><text transform="scale(0.88,1)" x="0" y="0" font-size="31" font-weight="bold" letter-spacing="4.5" fill="#e5e5e7" stroke="#e5e5e7" stroke-width="0.35">corset<tspan dx="1.5" fill="#f3e4f7" stroke="#f3e4f7">deal</tspan></text><text x="172.5" y="12.6" font-size="9.8" text-anchor="end" letter-spacing="0.45" fill="#e2e2e2">authentic corset store</text></g>
<g transform="translate(395,568.5) rotate(-30.0) scale(1.12)"><text transform="scale(0.88,1)" x="0" y="0" font-size="31" font-weight="bold" letter-spacing="4.5" fill="#e5e5e7" stroke="#e5e5e7" stroke-width="0.35">corset<tspan dx="1.5" fill="#f3e4f7" stroke="#f3e4f7">deal</tspan></text><text x="172.5" y="12.6" font-size="9.8" text-anchor="end" letter-spacing="0.45" fill="#e2e2e2">authentic corset store</text></g>
<g transform="translate(600,568.5) rotate(-30.0) scale(1.12)"><text transform="scale(0.88,1)" x="0" y="0" font-size="31" font-weight="bold" letter-spacing="4.5" fill="#e5e5e7" stroke="#e5e5e7" stroke-width="0.35">corset<tspan dx="1.5" fill="#f3e4f7" stroke="#f3e4f7">deal</tspan></text><text x="172.5" y="12.6" font-size="9.8" text-anchor="end" letter-spacing="0.45" fill="#e2e2e2">authentic corset store</text></g>
<g transform="translate(805,568.5) rotate(-30.0) scale(1.12)"><text transform="scale(0.88,1)" x="0" y="0" font-size="31" font-weight="bold" letter-spacing="4.5" fill="#e5e5e7" stroke="#e5e5e7" stroke-width="0.35">corset<tspan dx="1.5" fill="#f3e4f7" stroke="#f3e4f7">deal</tspan></text><text x="172.5" y="12.6" font-size="9.8" text-anchor="end" letter-spacing="0.45" fill="#e2e2e2">authentic corset store</text></g>
<g transform="translate(1011,568.5) rotate(-30.0) scale(1.12)"><text transform="scale(0.88,1)" x="0" y="0" font-size="31" font-weight="bold" letter-spacing="4.5" fill="#e5e5e7" stroke="#e5e5e7" stroke-width="0.35">corset<tspan dx="1.5" fill="#f3e4f7" stroke="#f3e4f7">deal</tspan></text><text x="172.5" y="12.6" font-size="9.8" text-anchor="end" letter-spacing="0.45" fill="#e2e2e2">authentic corset store</text></g>
<g transform="translate(-137,774) rotate(-30.0) scale(1.12)"><text transform="scale(0.88,1)" x="0" y="0" font-size="31" font-weight="bold" letter-spacing="4.5" fill="#e5e5e7" stroke="#e5e5e7" stroke-width="0.35">corset<tspan dx="1.5" fill="#f3e4f7" stroke="#f3e4f7">deal</tspan></text><text x="172.5" y="12.6" font-size="9.8" text-anchor="end" letter-spacing="0.45" fill="#e2e2e2">authentic corset store</text></g>
<g transform="translate(63,774) rotate(-30.0) scale(1.12)"><text transform="scale(0.88,1)" x="0" y="0" font-size="31" font-weight="bold" letter-spacing="4.5" fill="#e5e5e7" stroke="#e5e5e7" stroke-width="0.35">corset<tspan dx="1.5" fill="#f3e4f7" stroke="#f3e4f7">deal</tspan></text><text x="172.5" y="12.6" font-size="9.8" text-anchor="end" letter-spacing="0.45" fill="#e2e2e2">authentic corset store</text></g>
<g transform="translate(263,774) rotate(-30.0) scale(1.12)"><text transform="scale(0.88,1)" x="0" y="0" font-size="31" font-weight="bold" letter-spacing="4.5" fill="#e5e5e7" stroke="#e5e5e7" stroke-width="0.35">corset<tspan dx="1.5" fill="#f3e4f7" stroke="#f3e4f7">deal</tspan></text><text x="172.5" y="12.6" font-size="9.8" text-anchor="end" letter-spacing="0.45" fill="#e2e2e2">authentic corset store</text></g>
<g transform="translate(462.5,774) rotate(-30.0) scale(1.12)"><text transform="scale(0.88,1)" x="0" y="0" font-size="31" font-weight="bold" letter-spacing="4.5" fill="#e5e5e7" stroke="#e5e5e7" stroke-width="0.35">corset<tspan dx="1.5" fill="#f3e4f7" stroke="#f3e4f7">deal</tspan></text><text x="172.5" y="12.6" font-size="9.8" text-anchor="end" letter-spacing="0.45" fill="#e2e2e2">authentic corset store</text></g>
<g transform="translate(667,774) rotate(-30.0) scale(1.12)"><text transform="scale(0.88,1)" x="0" y="0" font-size="31" font-weight="bold" letter-spacing="4.5" fill="#e5e5e7" stroke="#e5e5e7" stroke-width="0.35">corset<tspan dx="1.5" fill="#f3e4f7" stroke="#f3e4f7">deal</tspan></text><text x="172.5" y="12.6" font-size="9.8" text-anchor="end" letter-spacing="0.45" fill="#e2e2e2">authentic corset store</text></g>
<g transform="translate(871,774) rotate(-30.0) scale(1.12)"><text transform="scale(0.88,1)" x="0" y="0" font-size="31" font-weight="bold" letter-spacing="4.5" fill="#e5e5e7" stroke="#e5e5e7" stroke-width="0.35">corset<tspan dx="1.5" fill="#f3e4f7" stroke="#f3e4f7">deal</tspan></text><text x="172.5" y="12.6" font-size="9.8" text-anchor="end" letter-spacing="0.45" fill="#e2e2e2">authentic corset store</text></g>
</svg>
</body></html>
